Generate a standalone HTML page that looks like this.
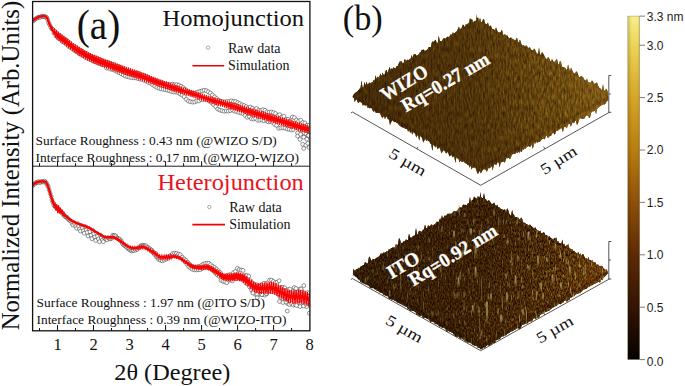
<!DOCTYPE html><html><head><meta charset="utf-8"><style>html,body{margin:0;padding:0;background:#fff;overflow:hidden}body{width:685px;height:386px;position:relative;font-family:"Liberation Sans",sans-serif}</style></head><body><svg width="685" height="386" viewBox="0 0 685 386" style="position:absolute;left:0;top:0">
<defs><clipPath id="ct"><rect x="32.5" y="1.5" width="277.3" height="164.5"/></clipPath><clipPath id="cb"><rect x="32.5" y="166" width="277.3" height="164.8"/></clipPath></defs>
<rect width="685" height="386" fill="#fff"/>
<g clip-path="url(#ct)">
<g fill="#fff" stroke="#3c3c3c" stroke-width="0.55"><circle cx="33.0" cy="20.9" r="1.95"/><circle cx="34.0" cy="20.2" r="1.95"/><circle cx="35.1" cy="19.3" r="1.95"/><circle cx="36.1" cy="18.5" r="1.95"/><circle cx="37.2" cy="18.0" r="1.95"/><circle cx="38.2" cy="17.3" r="1.95"/><circle cx="39.3" cy="17.1" r="1.95"/><circle cx="40.3" cy="17.2" r="1.95"/><circle cx="41.4" cy="16.5" r="1.95"/><circle cx="42.4" cy="16.3" r="1.95"/><circle cx="43.5" cy="16.5" r="1.95"/><circle cx="44.5" cy="16.6" r="1.95"/><circle cx="45.6" cy="16.9" r="1.95"/><circle cx="46.6" cy="17.4" r="1.95"/><circle cx="47.7" cy="19.6" r="1.95"/><circle cx="48.7" cy="22.8" r="1.95"/><circle cx="49.8" cy="24.8" r="1.95"/><circle cx="50.8" cy="27.2" r="1.95"/><circle cx="51.9" cy="28.9" r="1.95"/><circle cx="52.9" cy="29.7" r="1.95"/><circle cx="54.0" cy="33.0" r="1.95"/><circle cx="55.0" cy="31.4" r="1.95"/><circle cx="56.1" cy="36.0" r="1.95"/><circle cx="57.1" cy="33.6" r="1.95"/><circle cx="58.2" cy="38.2" r="1.95"/><circle cx="59.2" cy="35.2" r="1.95"/><circle cx="60.3" cy="39.3" r="1.95"/><circle cx="61.3" cy="36.8" r="1.95"/><circle cx="62.4" cy="41.5" r="1.95"/><circle cx="63.4" cy="38.5" r="1.95"/><circle cx="64.5" cy="42.6" r="1.95"/><circle cx="65.5" cy="39.8" r="1.95"/><circle cx="66.6" cy="44.3" r="1.95"/><circle cx="67.6" cy="41.3" r="1.95"/><circle cx="68.7" cy="46.4" r="1.95"/><circle cx="69.7" cy="43.0" r="1.95"/><circle cx="70.8" cy="47.8" r="1.95"/><circle cx="71.8" cy="45.0" r="1.95"/><circle cx="72.9" cy="49.2" r="1.95"/><circle cx="73.9" cy="46.3" r="1.95"/><circle cx="75.0" cy="50.8" r="1.95"/><circle cx="76.0" cy="47.7" r="1.95"/><circle cx="77.1" cy="51.9" r="1.95"/><circle cx="78.1" cy="49.1" r="1.95"/><circle cx="79.2" cy="53.8" r="1.95"/><circle cx="80.2" cy="50.0" r="1.95"/><circle cx="81.3" cy="55.0" r="1.95"/><circle cx="82.3" cy="51.6" r="1.95"/><circle cx="83.4" cy="55.9" r="1.95"/><circle cx="84.4" cy="53.3" r="1.95"/><circle cx="85.5" cy="57.4" r="1.95"/><circle cx="86.5" cy="53.7" r="1.95"/><circle cx="87.6" cy="58.3" r="1.95"/><circle cx="88.6" cy="55.2" r="1.95"/><circle cx="89.7" cy="59.3" r="1.95"/><circle cx="90.7" cy="56.2" r="1.95"/><circle cx="91.8" cy="60.3" r="1.95"/><circle cx="92.8" cy="57.2" r="1.95"/><circle cx="93.9" cy="61.6" r="1.95"/><circle cx="94.9" cy="57.7" r="1.95"/><circle cx="96.0" cy="62.2" r="1.95"/><circle cx="97.0" cy="58.7" r="1.95"/><circle cx="98.1" cy="63.1" r="1.95"/><circle cx="99.1" cy="59.4" r="1.95"/><circle cx="100.2" cy="63.7" r="1.95"/><circle cx="101.2" cy="60.5" r="1.95"/><circle cx="102.3" cy="64.9" r="1.95"/><circle cx="103.3" cy="61.6" r="1.95"/><circle cx="104.4" cy="65.2" r="1.95"/><circle cx="105.4" cy="62.1" r="1.95"/><circle cx="106.5" cy="68.0" r="1.95"/><circle cx="107.5" cy="62.2" r="1.95"/><circle cx="108.6" cy="68.2" r="1.95"/><circle cx="109.6" cy="63.2" r="1.95"/><circle cx="110.7" cy="69.2" r="1.95"/><circle cx="111.7" cy="64.0" r="1.95"/><circle cx="112.8" cy="69.5" r="1.95"/><circle cx="113.8" cy="64.5" r="1.95"/><circle cx="114.9" cy="70.4" r="1.95"/><circle cx="115.9" cy="66.0" r="1.95"/><circle cx="117.0" cy="71.4" r="1.95"/><circle cx="118.0" cy="66.6" r="1.95"/><circle cx="119.1" cy="72.7" r="1.95"/><circle cx="120.1" cy="67.8" r="1.95"/><circle cx="121.2" cy="73.7" r="1.95"/><circle cx="122.2" cy="68.7" r="1.95"/><circle cx="123.3" cy="74.9" r="1.95"/><circle cx="124.3" cy="70.0" r="1.95"/><circle cx="125.4" cy="76.1" r="1.95"/><circle cx="126.4" cy="71.2" r="1.95"/><circle cx="127.5" cy="76.6" r="1.95"/><circle cx="128.5" cy="72.0" r="1.95"/><circle cx="129.6" cy="77.2" r="1.95"/><circle cx="130.6" cy="72.7" r="1.95"/><circle cx="131.7" cy="77.7" r="1.95"/><circle cx="132.7" cy="73.0" r="1.95"/><circle cx="133.8" cy="77.8" r="1.95"/><circle cx="134.8" cy="73.3" r="1.95"/><circle cx="135.9" cy="77.9" r="1.95"/><circle cx="136.9" cy="73.0" r="1.95"/><circle cx="138.0" cy="78.6" r="1.95"/><circle cx="139.0" cy="73.7" r="1.95"/><circle cx="140.1" cy="79.1" r="1.95"/><circle cx="141.1" cy="75.0" r="1.95"/><circle cx="142.2" cy="79.4" r="1.95"/><circle cx="143.2" cy="75.0" r="1.95"/><circle cx="144.3" cy="80.4" r="1.95"/><circle cx="145.3" cy="76.1" r="1.95"/><circle cx="146.4" cy="81.2" r="1.95"/><circle cx="147.4" cy="77.0" r="1.95"/><circle cx="148.5" cy="82.5" r="1.95"/><circle cx="149.5" cy="78.3" r="1.95"/><circle cx="150.6" cy="83.2" r="1.95"/><circle cx="151.6" cy="79.3" r="1.95"/><circle cx="152.7" cy="84.8" r="1.95"/><circle cx="153.7" cy="80.1" r="1.95"/><circle cx="154.8" cy="86.1" r="1.95"/><circle cx="155.8" cy="81.1" r="1.95"/><circle cx="156.9" cy="87.4" r="1.95"/><circle cx="157.9" cy="82.2" r="1.95"/><circle cx="159.0" cy="88.2" r="1.95"/><circle cx="160.0" cy="82.7" r="1.95"/><circle cx="161.1" cy="88.9" r="1.95"/><circle cx="162.1" cy="82.9" r="1.95"/><circle cx="163.2" cy="89.3" r="1.95"/><circle cx="164.2" cy="83.8" r="1.95"/><circle cx="165.3" cy="89.6" r="1.95"/><circle cx="166.3" cy="84.2" r="1.95"/><circle cx="167.4" cy="90.1" r="1.95"/><circle cx="168.4" cy="84.4" r="1.95"/><circle cx="169.5" cy="90.8" r="1.95"/><circle cx="170.5" cy="84.6" r="1.95"/><circle cx="171.6" cy="91.5" r="1.95"/><circle cx="172.6" cy="84.2" r="1.95"/><circle cx="173.7" cy="92.0" r="1.95"/><circle cx="174.7" cy="84.9" r="1.95"/><circle cx="175.8" cy="92.0" r="1.95"/><circle cx="176.8" cy="84.7" r="1.95"/><circle cx="177.9" cy="92.5" r="1.95"/><circle cx="178.9" cy="85.1" r="1.95"/><circle cx="180.0" cy="93.9" r="1.95"/><circle cx="181.0" cy="86.2" r="1.95"/><circle cx="182.1" cy="95.1" r="1.95"/><circle cx="183.1" cy="87.6" r="1.95"/><circle cx="184.2" cy="96.8" r="1.95"/><circle cx="185.2" cy="89.3" r="1.95"/><circle cx="186.3" cy="99.3" r="1.95"/><circle cx="187.3" cy="91.4" r="1.95"/><circle cx="188.4" cy="101.0" r="1.95"/><circle cx="189.4" cy="92.6" r="1.95"/><circle cx="190.5" cy="101.7" r="1.95"/><circle cx="191.5" cy="93.2" r="1.95"/><circle cx="192.6" cy="102.1" r="1.95"/><circle cx="193.6" cy="93.4" r="1.95"/><circle cx="194.7" cy="101.9" r="1.95"/><circle cx="195.7" cy="92.9" r="1.95"/><circle cx="196.8" cy="101.0" r="1.95"/><circle cx="197.8" cy="92.1" r="1.95"/><circle cx="198.9" cy="100.9" r="1.95"/><circle cx="199.9" cy="91.3" r="1.95"/><circle cx="201.0" cy="99.5" r="1.95"/><circle cx="202.0" cy="90.9" r="1.95"/><circle cx="203.1" cy="99.6" r="1.95"/><circle cx="204.1" cy="90.2" r="1.95"/><circle cx="205.2" cy="99.2" r="1.95"/><circle cx="206.2" cy="90.6" r="1.95"/><circle cx="207.3" cy="99.4" r="1.95"/><circle cx="208.3" cy="91.8" r="1.95"/><circle cx="209.4" cy="101.1" r="1.95"/><circle cx="210.4" cy="93.0" r="1.95"/><circle cx="211.5" cy="102.6" r="1.95"/><circle cx="212.5" cy="95.0" r="1.95"/><circle cx="213.6" cy="104.7" r="1.95"/><circle cx="214.6" cy="96.9" r="1.95"/><circle cx="215.7" cy="106.6" r="1.95"/><circle cx="216.7" cy="98.6" r="1.95"/><circle cx="217.8" cy="109.1" r="1.95"/><circle cx="218.8" cy="100.3" r="1.95"/><circle cx="219.9" cy="110.1" r="1.95"/><circle cx="220.9" cy="101.4" r="1.95"/><circle cx="222.0" cy="110.7" r="1.95"/><circle cx="223.0" cy="101.7" r="1.95"/><circle cx="224.1" cy="111.3" r="1.95"/><circle cx="225.1" cy="101.8" r="1.95"/><circle cx="226.2" cy="110.9" r="1.95"/><circle cx="227.2" cy="101.6" r="1.95"/><circle cx="228.3" cy="111.1" r="1.95"/><circle cx="229.3" cy="101.5" r="1.95"/><circle cx="230.4" cy="110.6" r="1.95"/><circle cx="231.4" cy="100.9" r="1.95"/><circle cx="232.5" cy="109.9" r="1.95"/><circle cx="233.5" cy="101.5" r="1.95"/><circle cx="234.6" cy="111.1" r="1.95"/><circle cx="235.6" cy="101.5" r="1.95"/><circle cx="236.7" cy="111.5" r="1.95"/><circle cx="237.7" cy="102.6" r="1.95"/><circle cx="238.8" cy="112.5" r="1.95"/><circle cx="239.8" cy="103.6" r="1.95"/><circle cx="240.9" cy="112.9" r="1.95"/><circle cx="241.9" cy="104.8" r="1.95"/><circle cx="243.0" cy="113.5" r="1.95"/><circle cx="244.0" cy="105.5" r="1.95"/><circle cx="245.1" cy="115.5" r="1.95"/><circle cx="246.1" cy="106.6" r="1.95"/><circle cx="247.2" cy="117.3" r="1.95"/><circle cx="248.2" cy="107.9" r="1.95"/><circle cx="249.3" cy="116.6" r="1.95"/><circle cx="250.3" cy="107.0" r="1.95"/><circle cx="251.4" cy="118.7" r="1.95"/><circle cx="252.4" cy="108.2" r="1.95"/><circle cx="253.5" cy="119.0" r="1.95"/><circle cx="254.5" cy="110.0" r="1.95"/><circle cx="255.6" cy="118.5" r="1.95"/><circle cx="256.6" cy="108.4" r="1.95"/><circle cx="257.7" cy="120.2" r="1.95"/><circle cx="258.7" cy="110.3" r="1.95"/><circle cx="259.8" cy="120.2" r="1.95"/><circle cx="260.8" cy="110.6" r="1.95"/><circle cx="261.9" cy="120.0" r="1.95"/><circle cx="262.9" cy="109.6" r="1.95"/><circle cx="264.0" cy="120.9" r="1.95"/><circle cx="265.0" cy="110.3" r="1.95"/><circle cx="266.1" cy="120.0" r="1.95"/><circle cx="267.1" cy="111.9" r="1.95"/><circle cx="268.2" cy="121.8" r="1.95"/><circle cx="269.2" cy="112.3" r="1.95"/><circle cx="270.3" cy="121.6" r="1.95"/><circle cx="271.3" cy="112.0" r="1.95"/><circle cx="272.4" cy="122.3" r="1.95"/><circle cx="273.4" cy="112.6" r="1.95"/><circle cx="274.5" cy="124.3" r="1.95"/><circle cx="275.5" cy="113.5" r="1.95"/><circle cx="276.6" cy="125.4" r="1.95"/><circle cx="277.6" cy="115.7" r="1.95"/><circle cx="278.7" cy="128.2" r="1.95"/><circle cx="279.7" cy="114.7" r="1.95"/><circle cx="280.8" cy="127.9" r="1.95"/><circle cx="281.8" cy="117.1" r="1.95"/><circle cx="282.9" cy="127.8" r="1.95"/><circle cx="283.9" cy="116.3" r="1.95"/><circle cx="285.0" cy="128.0" r="1.95"/><circle cx="286.0" cy="119.6" r="1.95"/><circle cx="287.1" cy="129.1" r="1.95"/><circle cx="288.1" cy="119.3" r="1.95"/><circle cx="289.2" cy="129.3" r="1.95"/><circle cx="290.2" cy="121.2" r="1.95"/><circle cx="291.3" cy="130.0" r="1.95"/><circle cx="292.3" cy="117.0" r="1.95"/><circle cx="293.4" cy="129.4" r="1.95"/><circle cx="294.4" cy="117.6" r="1.95"/><circle cx="295.5" cy="126.0" r="1.95"/><circle cx="296.5" cy="119.9" r="1.95"/><circle cx="297.6" cy="133.0" r="1.95"/><circle cx="298.6" cy="121.2" r="1.95"/><circle cx="299.7" cy="129.8" r="1.95"/><circle cx="300.7" cy="120.2" r="1.95"/><circle cx="301.8" cy="133.9" r="1.95"/><circle cx="302.8" cy="122.5" r="1.95"/><circle cx="303.9" cy="133.0" r="1.95"/><circle cx="304.9" cy="123.0" r="1.95"/><circle cx="306.0" cy="133.8" r="1.95"/><circle cx="307.0" cy="125.3" r="1.95"/><circle cx="308.1" cy="135.6" r="1.95"/><circle cx="309.1" cy="125.3" r="1.95"/><circle cx="310.2" cy="133.7" r="1.95"/><circle cx="297.6" cy="136.1" r="1.95"/><circle cx="300.6" cy="134.3" r="1.95"/><circle cx="303.7" cy="137.2" r="1.95"/><circle cx="306.8" cy="139.2" r="1.95"/><circle cx="302.7" cy="144.3" r="1.95"/><circle cx="305.8" cy="145.3" r="1.95"/><circle cx="303.7" cy="148.4" r="1.95"/><circle cx="307.8" cy="143.3" r="1.95"/><circle cx="308.6" cy="135.5" r="1.95"/><circle cx="309.3" cy="147.5" r="1.95"/><circle cx="300.0" cy="139.5" r="1.95"/></g>
<path d="M32.5,21.1 L33.5,20.2 L34.5,19.5 L35.5,18.8 L36.5,18.2 L37.5,17.6 L38.5,17.1 L39.5,16.7 L40.5,16.5 L41.5,16.3 L42.5,16.1 L43.5,16.1 L44.5,16.2 L45.5,16.5 L46.5,17.1 L47.5,18.8 L48.5,21.7 L49.5,24.2 L50.5,26.3 L51.5,28.3 L52.5,29.8 L53.5,31.2 L54.5,32.4 L55.5,33.5 L56.5,34.5 L57.5,35.4 L58.5,36.2 L59.5,37.0" fill="none" stroke="#fb0000" stroke-width="2.3" stroke-linejoin="round"/>
<polygon points="55.0,30.7 56.0,31.7 57.0,32.7 58.0,33.5 59.0,34.3 60.0,35.1 61.0,35.9 62.0,36.6 63.0,37.3 64.0,38.0 65.0,38.8 66.0,39.5 67.0,40.3 68.0,41.0 69.0,41.8 70.0,42.6 71.0,43.3 72.0,44.1 73.0,44.8 74.0,45.5 75.0,46.2 76.0,46.9 77.0,47.5 78.0,48.1 79.0,48.8 80.0,49.4 81.0,50.0 82.0,50.6 83.0,51.2 84.0,51.8 85.0,52.3 86.0,52.9 87.0,53.4 88.0,53.9 89.0,54.4 90.0,54.9 91.0,55.4 92.0,55.8 93.0,56.3 94.0,56.7 95.0,57.1 96.0,57.6 97.0,58.0 98.0,58.4 99.0,58.8 100.0,59.2 101.0,59.6 102.0,60.0 103.0,60.4 104.0,60.8 105.0,61.1 106.0,61.5 107.0,61.9 108.0,62.2 109.0,62.6 110.0,63.0 111.0,63.3 112.0,63.7 113.0,64.1 114.0,64.4 115.0,64.8 116.0,65.1 117.0,65.5 118.0,65.9 119.0,66.2 120.0,66.6 121.0,66.9 122.0,67.3 123.0,67.6 124.0,68.0 125.0,68.4 126.0,68.7 127.0,69.1 128.0,69.4 129.0,69.8 130.0,70.1 131.0,70.5 132.0,70.8 133.0,71.1 134.0,71.5 135.0,71.8 136.0,72.2 137.0,72.6 138.0,72.9 139.0,73.3 140.0,73.7 141.0,74.1 142.0,74.4 143.0,74.8 144.0,75.2 145.0,75.6 146.0,76.0 147.0,76.4 148.0,76.8 149.0,77.2 150.0,77.6 151.0,78.0 152.0,78.3 153.0,78.7 154.0,79.1 155.0,79.5 156.0,79.8 157.0,80.2 158.0,80.6 159.0,80.9 160.0,81.3 161.0,81.7 162.0,82.0 163.0,82.4 164.0,82.8 165.0,83.1 166.0,83.5 167.0,83.8 168.0,84.2 169.0,84.6 170.0,84.9 171.0,85.3 172.0,85.6 173.0,86.0 174.0,86.3 175.0,86.7 176.0,87.0 177.0,87.4 178.0,87.7 179.0,88.0 180.0,88.3 181.0,88.7 182.0,89.0 183.0,89.3 184.0,89.6 185.0,90.0 186.0,90.3 187.0,90.6 188.0,91.0 189.0,91.3 190.0,91.6 191.0,92.0 192.0,92.3 193.0,92.6 194.0,93.0 195.0,93.3 196.0,93.6 197.0,94.0 198.0,94.3 199.0,94.7 200.0,95.0 201.0,95.3 202.0,95.6 203.0,96.0 204.0,96.3 205.0,96.6 206.0,97.0 207.0,97.3 208.0,97.6 209.0,97.9 210.0,98.3 211.0,98.6 212.0,98.9 213.0,99.2 214.0,99.4 215.0,99.7 216.0,100.0 217.0,100.3 218.0,100.5 219.0,100.8 220.0,101.1 221.0,101.3 222.0,101.6 223.0,101.9 224.0,102.1 225.0,102.4 226.0,102.7 227.0,103.0 228.0,103.2 229.0,103.5 230.0,103.8 231.0,104.1 232.0,104.3 233.0,104.6 234.0,104.9 235.0,105.2 236.0,105.5 237.0,105.8 238.0,106.1 239.0,106.4 240.0,106.7 241.0,107.0 242.0,107.4 243.0,107.7 244.0,108.0 245.0,108.4 246.0,108.7 247.0,109.1 248.0,109.4 249.0,109.7 250.0,110.0 251.0,110.3 252.0,110.6 253.0,110.9 254.0,111.2 255.0,111.5 256.0,111.7 257.0,112.0 258.0,112.3 259.0,112.6 260.0,112.8 261.0,113.1 262.0,113.4 263.0,113.7 264.0,114.0 265.0,114.2 266.0,114.5 267.0,114.8 268.0,115.1 269.0,115.4 270.0,115.7 271.0,116.0 272.0,116.3 273.0,116.6 274.0,116.9 275.0,117.2 276.0,117.5 277.0,117.8 278.0,118.1 279.0,118.4 280.0,118.7 281.0,119.0 282.0,119.3 283.0,119.7 284.0,120.0 285.0,120.3 286.0,120.6 287.0,120.9 288.0,121.2 289.0,121.5 290.0,121.8 291.0,122.1 292.0,122.4 293.0,122.7 294.0,123.1 295.0,123.4 296.0,123.7 297.0,124.0 298.0,124.3 299.0,124.6 300.0,124.9 301.0,125.2 302.0,125.5 303.0,125.8 304.0,126.1 305.0,126.4 306.0,126.7 307.0,127.0 308.0,127.3 309.0,127.6 309.0,131.8 308.0,131.5 307.0,131.2 306.0,130.9 305.0,130.6 304.0,130.3 303.0,130.0 302.0,129.7 301.0,129.4 300.0,129.1 299.0,128.8 298.0,128.5 297.0,128.2 296.0,127.9 295.0,127.6 294.0,127.3 293.0,126.9 292.0,126.6 291.0,126.3 290.0,126.0 289.0,125.7 288.0,125.4 287.0,125.1 286.0,124.8 285.0,124.5 284.0,124.2 283.0,123.9 282.0,123.5 281.0,123.2 280.0,122.9 279.0,122.6 278.0,122.3 277.0,122.0 276.0,121.7 275.0,121.4 274.0,121.1 273.0,120.8 272.0,120.5 271.0,120.2 270.0,119.9 269.0,119.6 268.0,119.3 267.0,119.0 266.0,118.6 265.0,118.3 264.0,118.0 263.0,117.7 262.0,117.4 261.0,117.1 260.0,116.8 259.0,116.5 258.0,116.2 257.0,115.9 256.0,115.6 255.0,115.3 254.0,115.0 253.0,114.7 252.0,114.4 251.0,114.1 250.0,113.8 249.0,113.4 248.0,113.1 247.0,112.7 246.0,112.4 245.0,112.0 244.0,111.7 243.0,111.3 242.0,110.9 241.0,110.6 240.0,110.2 239.0,109.9 238.0,109.5 237.0,109.2 236.0,108.9 235.0,108.6 234.0,108.3 233.0,108.0 232.0,107.7 231.0,107.4 230.0,107.1 229.0,106.8 228.0,106.5 227.0,106.2 226.0,105.9 225.0,105.6 224.0,105.3 223.0,105.0 222.0,104.7 221.0,104.4 220.0,104.1 219.0,103.8 218.0,103.5 217.0,103.3 216.0,103.0 215.0,102.7 214.0,102.4 213.0,102.1 212.0,101.7 211.0,101.4 210.0,101.1 209.0,100.7 208.0,100.4 207.0,100.1 206.0,99.7 205.0,99.3 204.0,99.0 203.0,98.6 202.0,98.3 201.0,97.9 200.0,97.6 199.0,97.3 198.0,97.0 197.0,96.7 196.0,96.3 195.0,96.0 194.0,95.7 193.0,95.4 192.0,95.1 191.0,94.8 190.0,94.5 189.0,94.2 188.0,93.9 187.0,93.5 186.0,93.2 185.0,92.9 184.0,92.6 183.0,92.3 182.0,92.0 181.0,91.7 180.0,91.4 179.0,91.1 178.0,90.8 177.0,90.5 176.0,90.2 175.0,89.9 174.0,89.6 173.0,89.3 172.0,88.9 171.0,88.6 170.0,88.3 169.0,87.9 168.0,87.6 167.0,87.3 166.0,86.9 165.0,86.6 164.0,86.3 163.0,85.9 162.0,85.6 161.0,85.2 160.0,84.9 159.0,84.6 158.0,84.2 157.0,83.9 156.0,83.5 155.0,83.2 154.0,82.8 153.0,82.5 152.0,82.1 151.0,81.8 150.0,81.4 149.0,81.1 148.0,80.7 147.0,80.3 146.0,80.0 145.0,79.6 144.0,79.2 143.0,78.9 142.0,78.5 141.0,78.1 140.0,77.8 139.0,77.4 138.0,77.1 137.0,76.7 136.0,76.4 135.0,76.1 134.0,75.7 133.0,75.4 132.0,75.1 131.0,74.8 130.0,74.5 129.0,74.1 128.0,73.8 127.0,73.5 126.0,73.2 125.0,72.8 124.0,72.5 123.0,72.2 122.0,71.8 121.0,71.5 120.0,71.2 119.0,70.8 118.0,70.5 117.0,70.1 116.0,69.7 115.0,69.4 114.0,69.0 113.0,68.7 112.0,68.3 111.0,67.9 110.0,67.6 109.0,67.2 108.0,66.8 107.0,66.5 106.0,66.1 105.0,65.7 104.0,65.4 103.0,65.0 102.0,64.6 101.0,64.2 100.0,63.8 99.0,63.4 98.0,63.0 97.0,62.6 96.0,62.2 95.0,61.7 94.0,61.3 93.0,60.9 92.0,60.4 91.0,60.0 90.0,59.5 89.0,59.0 88.0,58.5 87.0,58.0 86.0,57.5 85.0,56.9 84.0,56.4 83.0,55.8 82.0,55.2 81.0,54.6 80.0,54.0 79.0,53.4 78.0,52.7 77.0,52.1 76.0,51.5 75.0,50.8 74.0,50.1 73.0,49.4 72.0,48.7 71.0,47.9 70.0,47.2 69.0,46.4 68.0,45.6 67.0,44.9 66.0,44.1 65.0,43.4 64.0,42.6 63.0,41.9 62.0,41.2 61.0,40.5 60.0,39.7 59.0,38.9 58.0,38.1 57.0,37.3 56.0,36.3 55.0,35.3" fill="#fb0000"/>
<path d="M32.5,21.4 L33.5,19.9 L34.4,19.9 L35.4,18.5 L36.3,18.7 L37.3,17.4 L38.2,17.6 L39.2,16.5 L40.1,16.9 L41.1,16.0 L42.0,16.5 L43.0,15.8 L43.9,16.5 L44.9,16.0 L45.8,17.0 L46.8,17.1 L47.7,19.7 L48.7,21.4 L49.6,25.6 L50.6,24.7 L51.5,30.6 L52.5,26.9 L53.4,34.4 L54.4,28.3 L55.3,37.6 L56.3,30.0 L57.2,39.4 L58.2,31.7 L59.1,41.0 L60.1,33.1 L61.0,42.5 L62.0,34.6 L62.9,43.8 L63.9,35.9 L64.8,45.2 L65.8,37.3 L66.7,46.6 L67.7,38.7 L68.6,48.1 L69.6,40.2 L70.5,49.5 L71.5,41.7 L72.4,51.0 L73.4,43.1 L74.3,52.3 L75.3,44.4 L76.2,53.6 L77.2,45.6 L78.1,54.8 L79.1,46.8 L80.0,56.0 L81.0,48.0 L81.9,57.1 L82.9,49.1 L83.8,58.2 L84.8,50.2 L85.7,59.3 L86.7,51.2 L87.6,60.3 L88.6,52.2 L89.5,61.2 L90.5,53.1 L91.4,62.1 L92.4,54.0 L93.3,63.0 L94.3,54.8 L95.2,63.8 L96.2,55.6 L97.1,64.6 L98.1,56.4 L99.0,65.4 L100.0,57.2 L100.9,66.2 L101.9,57.9 L102.8,66.9 L103.8,58.7 L104.7,67.6 L105.7,59.4 L106.6,68.3 L107.6,60.1 L108.5,69.0 L109.5,60.8 L110.4,69.7 L111.4,61.5 L112.3,70.4 L113.3,62.2 L114.2,71.1 L115.2,62.8 L116.1,71.8 L117.1,63.5 L118.0,72.5 L119.0,64.2 L119.9,73.1 L120.9,64.9 L121.8,73.8 L122.8,65.6 L123.7,74.4 L124.7,66.2 L125.6,75.0 L126.6,66.9 L127.5,75.7 L128.5,67.6 L129.4,76.3 L130.4,68.2 L131.3,76.9 L132.3,68.9 L133.2,77.5 L134.2,69.5 L135.1,78.1 L136.1,70.2 L137.0,78.7 L138.0,70.9 L138.9,79.4 L139.9,71.6 L140.8,80.1 L141.8,72.4 L142.7,80.8 L143.7,73.1 L144.6,81.5 L145.6,73.8 L146.5,82.2 L147.5,74.6 L148.4,82.9 L149.4,75.3 L150.3,83.5 L151.3,76.0 L152.2,84.2 L153.2,76.8 L154.1,84.9 L155.1,77.5 L156.0,85.5 L157.0,78.2 L157.9,86.2 L158.9,78.9 L159.8,86.8 L160.8,79.6 L161.7,87.5 L162.7,80.3 L163.6,88.1 L164.6,81.0 L165.5,88.8 L166.5,81.6 L167.4,89.4 L168.4,82.3 L169.3,90.0 L170.3,83.0 L171.2,90.7 L172.2,83.7 L173.1,91.3 L174.1,84.4 L175.0,91.9 L176.0,85.0 L176.9,92.5 L177.9,85.6 L178.8,93.1 L179.8,86.3 L180.7,93.7 L181.7,86.9 L182.6,94.2 L183.6,87.5 L184.5,94.8 L185.5,88.1 L186.4,95.4 L187.4,88.7 L188.3,95.9 L189.3,89.4 L190.2,96.5 L191.2,90.0 L192.1,97.1 L193.1,90.6 L194.0,97.7 L195.0,91.3 L195.9,98.3 L196.9,91.9 L197.8,98.9 L198.8,92.6 L199.7,99.5 L200.7,93.2 L201.6,100.2 L202.6,93.8 L203.5,100.8 L204.5,94.5 L205.4,101.5 L206.4,95.1 L207.3,102.2 L208.3,95.7 L209.2,102.8 L210.2,96.3 L211.1,103.4 L212.1,96.9 L213.0,104.1 L214.0,97.4 L214.9,104.6 L215.9,98.0 L216.8,105.2 L217.8,98.5 L218.7,105.8 L219.7,99.0 L220.6,106.3 L221.6,99.5 L222.5,106.8 L223.5,100.0 L224.4,107.4 L225.4,100.5 L226.3,108.0 L227.3,101.0 L228.2,108.5 L229.2,101.6 L230.1,109.1 L231.1,102.1 L232.0,109.7 L233.0,102.6 L233.9,110.2 L234.9,103.1 L235.8,110.8 L236.8,103.7 L237.7,111.4 L238.7,104.3 L239.6,112.1 L240.6,104.9 L241.5,112.7 L242.5,105.5 L243.4,113.4 L244.4,106.2 L245.3,114.1 L246.3,106.8 L247.2,114.8 L248.2,107.4 L249.1,115.5 L250.1,108.0 L251.0,116.1 L252.0,108.6 L252.9,116.7 L253.9,109.1 L254.8,117.3 L255.8,109.7 L256.7,117.8 L257.7,110.2 L258.6,118.4 L259.6,110.7 L260.5,119.0 L261.5,111.2 L262.4,119.5 L263.4,111.8 L264.3,120.1 L265.3,112.3 L266.2,120.7 L267.2,112.9 L268.1,121.3 L269.1,113.4 L270.0,121.9 L271.0,114.0 L271.9,122.5 L272.9,114.5 L273.8,123.0 L274.8,115.1 L275.7,123.6 L276.7,115.7 L277.6,124.2 L278.6,116.3 L279.5,124.8 L280.5,116.9 L281.4,125.4 L282.4,117.5 L283.3,125.9 L284.3,118.0 L285.2,126.5 L286.2,118.6 L287.1,127.1 L288.1,119.2 L289.0,127.7 L290.0,119.8 L290.9,128.3 L291.9,120.4 L292.8,128.9 L293.8,121.0 L294.7,129.5 L295.7,121.6 L296.6,130.1 L297.6,122.2 L298.5,130.6 L299.5,122.7 L300.4,131.2 L301.4,123.3 L302.3,131.8 L303.3,123.9 L304.2,132.4 L305.2,124.4 L306.1,132.9 L307.1,125.0 L308.0,133.5 L309.0,125.5" fill="none" stroke="#fb0000" stroke-width="0.9" stroke-linejoin="miter"/>
</g>
<g clip-path="url(#cb)">
<g fill="#fff" stroke="#3c3c3c" stroke-width="0.55"><circle cx="33.0" cy="185.3" r="1.95"/><circle cx="34.0" cy="184.1" r="1.95"/><circle cx="34.9" cy="184.0" r="1.95"/><circle cx="35.9" cy="182.7" r="1.95"/><circle cx="36.8" cy="182.6" r="1.95"/><circle cx="37.8" cy="182.2" r="1.95"/><circle cx="38.7" cy="181.6" r="1.95"/><circle cx="39.7" cy="182.4" r="1.95"/><circle cx="40.6" cy="182.2" r="1.95"/><circle cx="41.6" cy="181.6" r="1.95"/><circle cx="42.5" cy="181.9" r="1.95"/><circle cx="43.5" cy="181.9" r="1.95"/><circle cx="44.4" cy="181.1" r="1.95"/><circle cx="45.4" cy="182.1" r="1.95"/><circle cx="46.3" cy="182.9" r="1.95"/><circle cx="47.3" cy="184.8" r="1.95"/><circle cx="48.2" cy="186.7" r="1.95"/><circle cx="49.2" cy="189.9" r="1.95"/><circle cx="50.1" cy="193.2" r="1.95"/><circle cx="51.1" cy="196.4" r="1.95"/><circle cx="52.0" cy="200.0" r="1.95"/><circle cx="53.0" cy="202.5" r="1.95"/><circle cx="53.9" cy="205.1" r="1.95"/><circle cx="54.9" cy="206.3" r="1.95"/><circle cx="55.8" cy="207.1" r="1.95"/><circle cx="56.8" cy="207.8" r="1.95"/><circle cx="57.7" cy="208.7" r="1.95"/><circle cx="58.7" cy="209.7" r="1.95"/><circle cx="59.6" cy="210.3" r="1.95"/><circle cx="60.6" cy="211.9" r="1.95"/><circle cx="61.5" cy="212.4" r="1.95"/><circle cx="62.5" cy="213.0" r="1.95"/><circle cx="63.4" cy="214.5" r="1.95"/><circle cx="64.4" cy="215.7" r="1.95"/><circle cx="65.3" cy="216.7" r="1.95"/><circle cx="66.3" cy="217.1" r="1.95"/><circle cx="67.2" cy="217.7" r="1.95"/><circle cx="68.2" cy="219.0" r="1.95"/><circle cx="69.1" cy="220.0" r="1.95"/><circle cx="70.1" cy="220.5" r="1.95"/><circle cx="71.0" cy="221.2" r="1.95"/><circle cx="72.0" cy="223.0" r="1.95"/><circle cx="72.9" cy="225.0" r="1.95"/><circle cx="73.9" cy="222.4" r="1.95"/><circle cx="74.8" cy="224.0" r="1.95"/><circle cx="75.8" cy="226.2" r="1.95"/><circle cx="76.7" cy="228.3" r="1.95"/><circle cx="77.7" cy="223.8" r="1.95"/><circle cx="78.6" cy="226.4" r="1.95"/><circle cx="79.6" cy="229.1" r="1.95"/><circle cx="80.5" cy="231.1" r="1.95"/><circle cx="81.5" cy="225.5" r="1.95"/><circle cx="82.4" cy="227.8" r="1.95"/><circle cx="83.4" cy="230.8" r="1.95"/><circle cx="84.3" cy="233.2" r="1.95"/><circle cx="85.3" cy="226.5" r="1.95"/><circle cx="86.2" cy="230.0" r="1.95"/><circle cx="87.2" cy="232.4" r="1.95"/><circle cx="88.1" cy="236.0" r="1.95"/><circle cx="89.1" cy="228.8" r="1.95"/><circle cx="90.0" cy="231.7" r="1.95"/><circle cx="91.0" cy="235.1" r="1.95"/><circle cx="91.9" cy="238.7" r="1.95"/><circle cx="92.9" cy="230.6" r="1.95"/><circle cx="93.8" cy="233.9" r="1.95"/><circle cx="94.8" cy="236.9" r="1.95"/><circle cx="95.7" cy="240.4" r="1.95"/><circle cx="96.7" cy="233.4" r="1.95"/><circle cx="97.6" cy="236.4" r="1.95"/><circle cx="98.6" cy="238.9" r="1.95"/><circle cx="99.5" cy="241.6" r="1.95"/><circle cx="100.5" cy="235.2" r="1.95"/><circle cx="101.4" cy="237.9" r="1.95"/><circle cx="102.4" cy="239.9" r="1.95"/><circle cx="103.3" cy="241.7" r="1.95"/><circle cx="104.3" cy="237.5" r="1.95"/><circle cx="105.2" cy="238.6" r="1.95"/><circle cx="106.2" cy="239.3" r="1.95"/><circle cx="107.1" cy="239.7" r="1.95"/><circle cx="108.1" cy="237.8" r="1.95"/><circle cx="109.0" cy="238.3" r="1.95"/><circle cx="110.0" cy="238.9" r="1.95"/><circle cx="110.9" cy="238.7" r="1.95"/><circle cx="111.9" cy="237.9" r="1.95"/><circle cx="112.8" cy="235.2" r="1.95"/><circle cx="113.8" cy="235.7" r="1.95"/><circle cx="114.7" cy="235.4" r="1.95"/><circle cx="115.7" cy="236.0" r="1.95"/><circle cx="116.6" cy="237.6" r="1.95"/><circle cx="117.6" cy="238.2" r="1.95"/><circle cx="118.5" cy="238.9" r="1.95"/><circle cx="119.5" cy="239.1" r="1.95"/><circle cx="120.4" cy="240.6" r="1.95"/><circle cx="121.4" cy="241.3" r="1.95"/><circle cx="122.3" cy="243.1" r="1.95"/><circle cx="123.3" cy="244.5" r="1.95"/><circle cx="124.2" cy="245.3" r="1.95"/><circle cx="125.2" cy="245.6" r="1.95"/><circle cx="126.1" cy="246.7" r="1.95"/><circle cx="127.1" cy="247.4" r="1.95"/><circle cx="128.0" cy="248.6" r="1.95"/><circle cx="129.0" cy="248.6" r="1.95"/><circle cx="129.9" cy="250.1" r="1.95"/><circle cx="130.9" cy="249.6" r="1.95"/><circle cx="131.8" cy="250.9" r="1.95"/><circle cx="132.8" cy="250.2" r="1.95"/><circle cx="133.7" cy="250.6" r="1.95"/><circle cx="134.7" cy="249.3" r="1.95"/><circle cx="135.6" cy="250.0" r="1.95"/><circle cx="136.6" cy="248.9" r="1.95"/><circle cx="137.5" cy="249.2" r="1.95"/><circle cx="138.5" cy="247.9" r="1.95"/><circle cx="139.4" cy="247.5" r="1.95"/><circle cx="140.4" cy="246.0" r="1.95"/><circle cx="141.3" cy="246.7" r="1.95"/><circle cx="142.3" cy="245.2" r="1.95"/><circle cx="143.2" cy="246.0" r="1.95"/><circle cx="144.2" cy="245.5" r="1.95"/><circle cx="145.1" cy="245.9" r="1.95"/><circle cx="146.1" cy="245.9" r="1.95"/><circle cx="147.0" cy="247.7" r="1.95"/><circle cx="148.0" cy="247.4" r="1.95"/><circle cx="148.9" cy="248.7" r="1.95"/><circle cx="149.9" cy="248.9" r="1.95"/><circle cx="150.8" cy="250.6" r="1.95"/><circle cx="151.8" cy="250.1" r="1.95"/><circle cx="152.7" cy="252.2" r="1.95"/><circle cx="153.7" cy="252.6" r="1.95"/><circle cx="154.6" cy="254.5" r="1.95"/><circle cx="155.6" cy="253.6" r="1.95"/><circle cx="156.5" cy="256.9" r="1.95"/><circle cx="157.5" cy="256.7" r="1.95"/><circle cx="158.4" cy="259.3" r="1.95"/><circle cx="159.4" cy="258.3" r="1.95"/><circle cx="160.3" cy="260.1" r="1.95"/><circle cx="161.3" cy="258.5" r="1.95"/><circle cx="162.2" cy="260.8" r="1.95"/><circle cx="163.2" cy="258.4" r="1.95"/><circle cx="164.1" cy="260.1" r="1.95"/><circle cx="165.1" cy="257.8" r="1.95"/><circle cx="166.0" cy="259.2" r="1.95"/><circle cx="167.0" cy="256.9" r="1.95"/><circle cx="167.9" cy="258.4" r="1.95"/><circle cx="168.9" cy="256.7" r="1.95"/><circle cx="169.8" cy="257.0" r="1.95"/><circle cx="170.8" cy="255.4" r="1.95"/><circle cx="171.7" cy="256.2" r="1.95"/><circle cx="172.7" cy="253.6" r="1.95"/><circle cx="173.6" cy="255.1" r="1.95"/><circle cx="174.6" cy="253.2" r="1.95"/><circle cx="175.5" cy="255.2" r="1.95"/><circle cx="176.5" cy="253.4" r="1.95"/><circle cx="177.4" cy="255.5" r="1.95"/><circle cx="178.4" cy="254.1" r="1.95"/><circle cx="179.3" cy="256.2" r="1.95"/><circle cx="180.3" cy="254.8" r="1.95"/><circle cx="181.2" cy="258.0" r="1.95"/><circle cx="182.2" cy="257.1" r="1.95"/><circle cx="183.1" cy="259.5" r="1.95"/><circle cx="184.1" cy="258.9" r="1.95"/><circle cx="185.0" cy="261.8" r="1.95"/><circle cx="186.0" cy="260.4" r="1.95"/><circle cx="186.9" cy="264.2" r="1.95"/><circle cx="187.9" cy="262.5" r="1.95"/><circle cx="188.8" cy="266.6" r="1.95"/><circle cx="189.8" cy="264.5" r="1.95"/><circle cx="190.7" cy="268.3" r="1.95"/><circle cx="191.7" cy="266.3" r="1.95"/><circle cx="192.6" cy="269.3" r="1.95"/><circle cx="193.6" cy="267.3" r="1.95"/><circle cx="194.5" cy="269.8" r="1.95"/><circle cx="195.5" cy="267.3" r="1.95"/><circle cx="196.4" cy="269.9" r="1.95"/><circle cx="197.4" cy="266.7" r="1.95"/><circle cx="198.3" cy="269.8" r="1.95"/><circle cx="199.3" cy="266.6" r="1.95"/><circle cx="200.2" cy="269.7" r="1.95"/><circle cx="201.2" cy="265.6" r="1.95"/><circle cx="202.1" cy="268.6" r="1.95"/><circle cx="203.1" cy="264.3" r="1.95"/><circle cx="204.0" cy="267.8" r="1.95"/><circle cx="205.0" cy="263.5" r="1.95"/><circle cx="205.9" cy="266.3" r="1.95"/><circle cx="206.9" cy="263.2" r="1.95"/><circle cx="207.8" cy="267.4" r="1.95"/><circle cx="208.8" cy="263.3" r="1.95"/><circle cx="209.7" cy="267.8" r="1.95"/><circle cx="210.7" cy="264.7" r="1.95"/><circle cx="211.6" cy="269.0" r="1.95"/><circle cx="212.6" cy="266.3" r="1.95"/><circle cx="213.5" cy="270.7" r="1.95"/><circle cx="214.5" cy="267.4" r="1.95"/><circle cx="215.4" cy="273.1" r="1.95"/><circle cx="216.4" cy="269.0" r="1.95"/><circle cx="217.3" cy="274.9" r="1.95"/><circle cx="218.3" cy="270.8" r="1.95"/><circle cx="219.2" cy="276.4" r="1.95"/><circle cx="220.2" cy="272.6" r="1.95"/><circle cx="221.1" cy="280.4" r="1.95"/><circle cx="222.1" cy="275.3" r="1.95"/><circle cx="223.0" cy="281.3" r="1.95"/><circle cx="224.0" cy="276.5" r="1.95"/><circle cx="224.9" cy="281.8" r="1.95"/><circle cx="225.9" cy="276.3" r="1.95"/><circle cx="226.8" cy="282.7" r="1.95"/><circle cx="227.8" cy="275.2" r="1.95"/><circle cx="228.7" cy="280.2" r="1.95"/><circle cx="229.7" cy="274.6" r="1.95"/><circle cx="230.6" cy="280.0" r="1.95"/><circle cx="231.6" cy="275.2" r="1.95"/><circle cx="232.5" cy="280.7" r="1.95"/><circle cx="233.5" cy="272.6" r="1.95"/><circle cx="234.4" cy="277.8" r="1.95"/><circle cx="235.4" cy="271.5" r="1.95"/><circle cx="236.3" cy="278.8" r="1.95"/><circle cx="237.3" cy="268.3" r="1.95"/><circle cx="238.2" cy="277.7" r="1.95"/><circle cx="239.2" cy="269.6" r="1.95"/><circle cx="240.1" cy="278.6" r="1.95"/><circle cx="241.1" cy="270.1" r="1.95"/><circle cx="242.0" cy="278.2" r="1.95"/><circle cx="243.0" cy="270.4" r="1.95"/><circle cx="243.9" cy="279.0" r="1.95"/><circle cx="244.9" cy="275.1" r="1.95"/><circle cx="245.8" cy="283.1" r="1.95"/><circle cx="246.8" cy="275.5" r="1.95"/><circle cx="247.7" cy="283.9" r="1.95"/><circle cx="248.7" cy="276.1" r="1.95"/><circle cx="249.6" cy="286.9" r="1.95"/><circle cx="250.6" cy="280.8" r="1.95"/><circle cx="251.5" cy="290.3" r="1.95"/><circle cx="252.5" cy="283.5" r="1.95"/><circle cx="253.4" cy="291.6" r="1.95"/><circle cx="254.4" cy="285.2" r="1.95"/><circle cx="255.3" cy="294.2" r="1.95"/><circle cx="256.3" cy="287.7" r="1.95"/><circle cx="257.2" cy="297.6" r="1.95"/><circle cx="258.2" cy="286.2" r="1.95"/><circle cx="259.1" cy="294.3" r="1.95"/><circle cx="260.1" cy="286.2" r="1.95"/><circle cx="261.0" cy="294.4" r="1.95"/><circle cx="262.0" cy="284.6" r="1.95"/><circle cx="262.9" cy="294.6" r="1.95"/><circle cx="263.9" cy="283.3" r="1.95"/><circle cx="264.8" cy="295.1" r="1.95"/><circle cx="265.8" cy="283.9" r="1.95"/><circle cx="266.7" cy="293.8" r="1.95"/><circle cx="267.7" cy="282.8" r="1.95"/><circle cx="268.6" cy="291.1" r="1.95"/><circle cx="269.6" cy="280.2" r="1.95"/><circle cx="270.5" cy="291.0" r="1.95"/><circle cx="271.5" cy="280.1" r="1.95"/><circle cx="272.4" cy="291.7" r="1.95"/><circle cx="273.4" cy="281.4" r="1.95"/><circle cx="274.3" cy="289.5" r="1.95"/><circle cx="275.3" cy="282.5" r="1.95"/><circle cx="276.2" cy="290.6" r="1.95"/><circle cx="277.2" cy="282.2" r="1.95"/><circle cx="278.1" cy="294.2" r="1.95"/><circle cx="279.1" cy="280.8" r="1.95"/><circle cx="280.0" cy="296.9" r="1.95"/><circle cx="281.0" cy="287.2" r="1.95"/><circle cx="281.9" cy="298.1" r="1.95"/><circle cx="282.9" cy="287.4" r="1.95"/><circle cx="283.8" cy="299.3" r="1.95"/><circle cx="284.8" cy="287.8" r="1.95"/><circle cx="285.7" cy="301.2" r="1.95"/><circle cx="286.7" cy="290.2" r="1.95"/><circle cx="287.6" cy="303.5" r="1.95"/><circle cx="288.6" cy="289.5" r="1.95"/><circle cx="289.5" cy="304.5" r="1.95"/><circle cx="290.5" cy="292.9" r="1.95"/><circle cx="291.4" cy="303.5" r="1.95"/><circle cx="292.4" cy="291.2" r="1.95"/><circle cx="293.3" cy="305.1" r="1.95"/><circle cx="294.3" cy="287.5" r="1.95"/><circle cx="295.2" cy="304.6" r="1.95"/><circle cx="296.2" cy="292.0" r="1.95"/><circle cx="297.1" cy="303.4" r="1.95"/><circle cx="298.1" cy="291.6" r="1.95"/><circle cx="299.0" cy="300.0" r="1.95"/><circle cx="300.0" cy="289.0" r="1.95"/><circle cx="300.9" cy="303.3" r="1.95"/><circle cx="301.9" cy="291.0" r="1.95"/><circle cx="302.8" cy="302.5" r="1.95"/><circle cx="303.8" cy="285.6" r="1.95"/><circle cx="304.7" cy="304.3" r="1.95"/><circle cx="305.7" cy="294.6" r="1.95"/><circle cx="306.6" cy="306.6" r="1.95"/><circle cx="307.6" cy="292.6" r="1.95"/><circle cx="308.5" cy="299.5" r="1.95"/><circle cx="309.5" cy="296.2" r="1.95"/><circle cx="310.4" cy="305.5" r="1.95"/><circle cx="287.3" cy="311.0" r="1.95"/><circle cx="309.4" cy="313.2" r="1.95"/><circle cx="253.0" cy="293.0" r="1.95"/><circle cx="257.0" cy="294.0" r="1.95"/><circle cx="262.0" cy="294.5" r="1.95"/><circle cx="266.0" cy="293.5" r="1.95"/><circle cx="279.5" cy="301.5" r="1.95"/><circle cx="283.0" cy="302.5" r="1.95"/><circle cx="286.0" cy="302.0" r="1.95"/><circle cx="296.5" cy="305.5" r="1.95"/><circle cx="300.0" cy="306.5" r="1.95"/><circle cx="303.5" cy="306.0" r="1.95"/><circle cx="290.0" cy="289.0" r="1.95"/><circle cx="296.0" cy="288.5" r="1.95"/><circle cx="301.0" cy="289.0" r="1.95"/><circle cx="306.0" cy="304.0" r="1.95"/><circle cx="308.5" cy="302.0" r="1.95"/></g>
<path d="M32.5,185.3 L33.5,184.4 L34.5,183.6 L35.5,183.0 L36.5,182.5 L37.5,182.0 L38.5,181.8 L39.5,181.6 L40.5,181.5 L41.5,181.4 L42.5,181.4 L43.5,181.5 L44.5,181.6 L45.5,181.8 L46.5,182.9 L47.5,185.0 L48.5,187.6 L49.5,190.9 L50.5,194.3 L51.5,197.5 L52.5,200.9 L53.5,203.6 L54.5,205.2 L55.5,206.4 L56.5,207.4 L57.5,208.2 L58.5,209.1 L59.5,210.1 L60.5,211.1 L61.5,212.1 L62.5,213.1 L63.5,214.1 L64.5,215.0 L65.5,215.9 L66.5,216.7 L67.5,217.6 L68.5,218.5 L69.5,219.2 L70.5,220.0 L71.5,220.6 L72.5,221.2 L73.5,221.7 L74.5,222.1 L75.5,222.6 L76.5,223.0 L77.5,223.4 L78.5,223.8 L79.5,224.2 L80.5,224.6 L81.5,225.0 L82.5,225.3 L83.5,225.6 L84.5,226.0 L85.5,226.3 L86.5,226.7 L87.5,227.1 L88.5,227.5 L89.5,228.0 L90.5,228.6 L91.5,229.2 L92.5,229.8 L93.5,230.5 L94.5,231.1 L95.5,231.7 L96.5,232.3 L97.5,232.9 L98.5,233.5 L99.5,234.1 L100.5,234.7 L101.5,235.3 L102.5,235.9 L103.5,236.5 L104.5,236.9 L105.5,237.0 L106.5,237.1 L107.5,237.2 L108.5,237.2 L109.5,237.2 L110.5,237.3 L111.5,237.3 L112.5,237.4 L113.5,237.5 L114.5,237.7 L115.5,238.2 L116.5,238.7 L117.5,239.3 L118.5,239.9 L119.5,240.5" fill="none" stroke="#fb0000" stroke-width="2.3" stroke-linejoin="round"/>
<path d="M110.0,237.2 L111.0,237.3 L112.0,237.3 L113.0,237.4 L114.0,237.6 L115.0,237.9 L116.0,238.4 L117.0,239.0 L118.0,239.6 L119.0,240.2 L120.0,240.8 L121.0,241.5 L122.0,242.2 L123.0,243.0 L124.0,243.8 L125.0,244.5 L126.0,245.1 L127.0,245.7 L128.0,246.3 L129.0,246.8 L130.0,247.3 L131.0,247.6 L132.0,247.8 L133.0,247.9 L134.0,247.9 L135.0,248.0 L136.0,248.0 L137.0,248.0 L138.0,247.9 L139.0,247.7 L140.0,247.4 L141.0,247.2 L142.0,247.0 L143.0,247.0 L144.0,247.3 L145.0,247.6 L146.0,248.1 L147.0,248.5 L148.0,249.0 L149.0,249.5 L150.0,250.1 L151.0,250.7 L152.0,251.4 L153.0,252.1 L154.0,252.8 L155.0,253.4 L156.0,254.1 L157.0,254.9 L158.0,255.7 L159.0,256.4 L160.0,256.9 L161.0,257.1 L162.0,257.2 L163.0,257.2 L164.0,257.2 L165.0,257.3 L166.0,257.3 L167.0,257.3 L168.0,257.2 L169.0,257.1 L170.0,256.9 L171.0,256.7 L172.0,256.5 L173.0,256.4 L174.0,256.4 L175.0,256.6 L176.0,256.8 L177.0,257.1 L178.0,257.4 L179.0,257.8 L180.0,258.2 L181.0,258.8 L182.0,259.5 L183.0,260.2 L184.0,260.9 L185.0,261.5 L186.0,262.2 L187.0,262.9 L188.0,263.6 L189.0,264.4 L190.0,265.1 L191.0,265.7 L192.0,266.2 L193.0,266.6 L194.0,266.9 L195.0,267.0 L196.0,267.2 L197.0,267.3 L198.0,267.4 L199.0,267.5 L200.0,267.5 L201.0,267.5 L202.0,267.4 L203.0,267.2 L204.0,267.1 L205.0,267.0 L206.0,267.0 L207.0,267.1 L208.0,267.4 L209.0,267.8 L210.0,268.3 L211.0,268.8 L212.0,269.3 L213.0,269.8 L214.0,270.4 L215.0,271.1 L216.0,271.7 L217.0,272.3 L218.0,273.0 L219.0,273.8 L220.0,274.6 L221.0,275.4 L222.0,276.1 L223.0,276.6 L224.0,277.0 L225.0,277.1 L226.0,277.2 L227.0,277.3 L228.0,277.3 L229.0,277.4 L230.0,277.4 L231.0,277.4 L232.0,277.3 L233.0,277.2 L234.0,276.9 L235.0,276.7 L236.0,276.5 L237.0,276.4 L238.0,276.4 L239.0,276.6 L240.0,276.9 L241.0,277.2 L242.0,277.6 L243.0,278.1 L244.0,278.7 L245.0,279.4 L246.0,280.2 L247.0,281.0 L248.0,281.8 L249.0,282.6 L250.0,283.5 L251.0,284.4 L252.0,285.3 L253.0,286.1 L254.0,286.8 L255.0,287.2 L256.0,287.5 L257.0,287.9 L258.0,288.1 L259.0,288.3 L260.0,288.5 L261.0,288.5 L262.0,288.5 L263.0,288.5 L264.0,288.4 L265.0,288.4 L266.0,288.3 L267.0,288.2 L268.0,288.0 L269.0,287.9 L270.0,287.8 L271.0,287.7 L272.0,287.8 L273.0,288.1 L274.0,288.4 L275.0,288.9 L276.0,289.3 L277.0,289.8 L278.0,290.3 L279.0,291.0 L280.0,291.6 L281.0,292.2 L282.0,292.8 L283.0,293.4 L284.0,294.0 L285.0,294.6 L286.0,295.1 L287.0,295.7 L288.0,296.1 L289.0,296.4 L290.0,296.5 L291.0,296.7 L292.0,296.8 L293.0,296.8 L294.0,296.9 L295.0,296.9 L296.0,296.9 L297.0,296.8 L298.0,296.7 L299.0,296.6 L300.0,296.6 L301.0,296.7 L302.0,296.9 L303.0,297.2 L304.0,297.5 L305.0,297.8 L306.0,298.1 L307.0,298.5 L308.0,299.0 L309.0,299.4" fill="none" stroke="#fb0000" stroke-width="1.9" stroke-linejoin="round"/>
<polygon points="150.0,250.1 151.0,250.7 152.0,251.4 153.0,252.1 154.0,252.8 155.0,253.4 156.0,254.1 157.0,254.9 158.0,255.7 159.0,256.4 160.0,256.9 161.0,257.1 162.0,257.2 163.0,257.2 164.0,257.2 165.0,257.3 166.0,257.3 167.0,257.2 168.0,257.2 169.0,257.0 170.0,256.8 171.0,256.6 172.0,256.4 173.0,256.2 174.0,256.2 175.0,256.4 176.0,256.6 177.0,256.9 178.0,257.2 179.0,257.5 180.0,257.9 181.0,258.5 182.0,259.1 183.0,259.8 184.0,260.5 185.0,261.1 186.0,261.7 187.0,262.4 188.0,263.1 189.0,263.8 190.0,264.5 191.0,265.1 192.0,265.6 193.0,266.0 194.0,266.2 195.0,266.3 196.0,266.5 197.0,266.6 198.0,266.6 199.0,266.7 200.0,266.7 201.0,266.6 202.0,266.5 203.0,266.3 204.0,266.2 205.0,266.0 206.0,266.0 207.0,266.0 208.0,266.3 209.0,266.7 210.0,267.1 211.0,267.6 212.0,268.0 213.0,268.5 214.0,269.1 215.0,269.7 216.0,270.2 217.0,270.8 218.0,271.5 219.0,272.2 220.0,272.9 221.0,273.7 222.0,274.3 223.0,274.8 224.0,275.1 225.0,275.2 226.0,275.2 227.0,275.2 228.0,275.2 229.0,275.2 230.0,275.2 231.0,275.1 232.0,275.0 233.0,274.8 234.0,274.5 235.0,274.2 236.0,274.0 237.0,273.8 238.0,273.8 239.0,273.9 240.0,274.2 241.0,274.5 242.0,274.9 243.0,275.4 244.0,276.1 245.0,276.9 246.0,277.7 247.0,278.6 248.0,279.4 249.0,280.3 250.0,281.3 251.0,282.3 252.0,283.3 253.0,284.1 254.0,284.9 255.0,285.3 256.0,285.8 257.0,286.2 258.0,286.5 259.0,286.8 260.0,287.0 261.0,287.2 262.0,287.2 263.0,287.3 264.0,287.4 265.0,287.4 266.0,287.3 267.0,287.2 268.0,287.0 269.0,286.8 270.0,286.7 271.0,286.6 272.0,286.7 273.0,287.0 274.0,287.3 275.0,287.7 276.0,288.1 277.0,288.6 278.0,289.2 279.0,289.8 280.0,290.4 281.0,291.0 282.0,291.5 283.0,292.1 284.0,292.7 285.0,293.3 286.0,293.8 287.0,294.3 288.0,294.7 289.0,295.0 290.0,295.2 291.0,295.3 292.0,295.4 293.0,295.4 294.0,295.5 295.0,295.5 296.0,295.4 297.0,295.4 298.0,295.3 299.0,295.2 300.0,295.1 301.0,295.2 302.0,295.4 303.0,295.7 304.0,296.0 305.0,296.3 306.0,296.6 307.0,297.0 308.0,297.4 309.0,297.9 309.0,301.0 308.0,300.5 307.0,300.1 306.0,299.7 305.0,299.3 304.0,299.0 303.0,298.7 302.0,298.4 301.0,298.2 300.0,298.1 299.0,298.1 298.0,298.2 297.0,298.2 296.0,298.3 295.0,298.3 294.0,298.3 293.0,298.2 292.0,298.1 291.0,298.0 290.0,297.9 289.0,297.7 288.0,297.4 287.0,297.0 286.0,296.4 285.0,295.9 284.0,295.2 283.0,294.6 282.0,294.0 281.0,293.5 280.0,292.8 279.0,292.2 278.0,291.5 277.0,290.9 276.0,290.5 275.0,290.0 274.0,289.6 273.0,289.2 272.0,288.9 271.0,288.8 270.0,288.8 269.0,288.9 268.0,289.1 267.0,289.2 266.0,289.3 265.0,289.3 264.0,289.4 263.0,289.6 262.0,289.7 261.0,289.8 260.0,289.9 259.0,289.9 258.0,289.7 257.0,289.6 256.0,289.3 255.0,289.0 254.0,288.7 253.0,288.1 252.0,287.4 251.0,286.6 250.0,285.7 249.0,284.8 248.0,284.1 247.0,283.4 246.0,282.6 245.0,281.9 244.0,281.2 243.0,280.7 242.0,280.3 241.0,279.9 240.0,279.7 239.0,279.3 238.0,279.1 237.0,279.0 236.0,279.0 235.0,279.2 234.0,279.4 233.0,279.5 232.0,279.7 231.0,279.7 230.0,279.6 229.0,279.5 228.0,279.4 227.0,279.3 226.0,279.2 225.0,279.1 224.0,278.9 223.0,278.4 222.0,277.8 221.0,277.1 220.0,276.3 219.0,275.4 218.0,274.6 217.0,273.8 216.0,273.2 215.0,272.5 214.0,271.8 213.0,271.2 212.0,270.6 211.0,270.0 210.0,269.5 209.0,269.0 208.0,268.5 207.0,268.2 206.0,268.0 205.0,268.0 204.0,268.1 203.0,268.2 202.0,268.3 201.0,268.3 200.0,268.3 199.0,268.3 198.0,268.2 197.0,268.0 196.0,267.9 195.0,267.7 194.0,267.5 193.0,267.2 192.0,266.8 191.0,266.3 190.0,265.6 189.0,264.9 188.0,264.1 187.0,263.3 186.0,262.6 185.0,262.0 184.0,261.3 183.0,260.5 182.0,259.8 181.0,259.1 180.0,258.5 179.0,258.1 178.0,257.7 177.0,257.3 176.0,257.0 175.0,256.8 174.0,256.6 173.0,256.6 172.0,256.7 171.0,256.8 170.0,257.0 169.0,257.2 168.0,257.3 167.0,257.4 166.0,257.3 165.0,257.3 164.0,257.3 163.0,257.2 162.0,257.2 161.0,257.1 160.0,256.9 159.0,256.4 158.0,255.7 157.0,254.9 156.0,254.1 155.0,253.4 154.0,252.8 153.0,252.1 152.0,251.4 151.0,250.7 150.0,250.1" fill="#fb0000"/>
<path d="M32.5,185.6 L33.4,184.1 L34.3,184.1 L35.2,182.8 L36.1,183.0 L37.0,181.9 L37.9,182.2 L38.8,181.4 L39.7,181.9 L40.6,181.1 L41.5,181.8 L42.4,181.1 L43.3,181.8 L44.2,181.2 L45.1,182.1 L46.0,181.8 L46.9,184.1 L47.8,185.3 L48.7,188.5 L49.6,190.9 L50.5,194.6 L51.4,195.2 L52.3,203.1 L53.2,199.4 L54.1,207.9 L55.0,202.3 L55.9,210.6 L56.8,204.0 L57.7,213.1 L58.6,205.4 L59.5,213.1 L60.4,207.7 L61.3,213.9 L62.2,209.7 L63.1,216.2 L64.0,212.8 L64.9,216.3 L65.8,215.4 L66.7,217.6 L67.6,217.0 L68.5,219.2 L69.4,218.5 L70.3,220.5 L71.2,219.7 L72.1,221.6 L73.0,220.7 L73.9,222.6 L74.8,221.6 L75.7,223.4 L76.6,222.4 L77.5,224.1 L78.4,223.1 L79.3,224.8 L80.2,223.8 L81.1,225.5 L82.0,224.4 L82.9,226.1 L83.8,225.0 L84.7,226.7 L85.6,225.6 L86.5,227.4 L87.4,226.3 L88.3,228.1 L89.2,227.2 L90.1,229.1 L91.0,228.2 L91.9,230.1 L92.8,229.3 L93.7,231.3 L94.6,230.5 L95.5,232.4 L96.4,231.6 L97.3,233.5 L98.2,232.7 L99.1,234.6 L100.0,233.7 L100.9,235.6 L101.8,234.8 L102.7,236.7 L103.6,235.9 L104.5,237.6 L105.4,236.3 L106.3,237.8 L107.2,236.4 L108.1,237.9 L109.0,236.5 L109.9,237.9 L110.8,236.4 L111.7,238.2 L112.6,236.4 L113.5,238.4 L114.4,236.8 L115.3,239.0 L116.2,237.6 L117.1,240.0 L118.0,238.6 L118.9,241.1 L119.8,239.7 L120.7,242.3 L121.6,240.9 L122.5,243.7 L123.4,242.3 L124.3,245.1 L125.2,243.5 L126.1,246.2 L127.0,244.6 L127.9,247.3 L128.8,245.6 L129.7,248.3 L130.6,246.4 L131.5,248.9 L132.4,246.7 L133.3,249.1 L134.2,246.7 L135.1,249.2 L136.0,246.8 L136.9,249.2 L137.8,246.7 L138.7,249.0 L139.6,246.3 L140.5,248.5 L141.4,245.8 L142.3,248.3 L143.2,245.8 L144.1,248.6 L145.0,246.3 L145.9,249.4 L146.8,247.1 L147.7,250.2 L148.6,247.9 L149.5,251.2 L150.4,248.9 L151.3,252.3 L152.2,250.1 L153.1,253.6 L154.0,251.3 L154.9,254.8 L155.8,252.5 L156.7,256.2 L157.6,253.9 L158.5,257.6 L159.4,255.1 L160.3,258.5 L161.2,255.5 L162.1,258.7 L163.0,255.6 L163.9,258.9 L164.8,255.6 L165.7,258.9 L166.6,255.6 L167.5,259.0 L168.4,255.5 L169.3,258.7 L170.2,255.1 L171.1,258.4 L172.0,254.8 L172.9,258.2 L173.8,254.6 L174.7,258.3 L175.6,254.9 L176.5,258.8 L177.4,255.4 L178.3,259.4 L179.2,256.0 L180.1,260.2 L181.0,256.9 L181.9,261.3 L182.8,258.1 L183.7,262.6 L184.6,259.3 L185.5,263.9 L186.4,260.4 L187.3,265.2 L188.2,261.7 L189.1,266.5 L190.0,262.9 L190.9,267.8 L191.8,263.9 L192.7,268.7 L193.6,264.5 L194.5,269.2 L195.4,264.8 L196.3,269.5 L197.2,265.0 L198.1,269.8 L199.0,265.1 L199.9,269.9 L200.8,265.0 L201.7,269.9 L202.6,264.8 L203.5,269.7 L204.4,264.5 L205.3,269.6 L206.2,264.4 L207.1,269.8 L208.0,264.7 L208.9,270.6 L209.8,265.4 L210.7,271.5 L211.6,266.2 L212.5,272.5 L213.4,267.1 L214.3,273.6 L215.2,268.2 L216.1,274.8 L217.0,269.2 L217.9,276.1 L218.8,270.4 L219.7,277.6 L220.6,271.8 L221.5,279.1 L222.4,272.9 L223.3,280.2 L224.2,273.5 L225.1,280.7 L226.0,273.6 L226.9,280.9 L227.8,273.6 L228.7,281.1 L229.6,273.6 L230.5,281.2 L231.4,273.5 L232.3,281.2 L233.2,273.1 L234.1,280.9 L235.0,272.6 L235.9,280.6 L236.8,272.2 L237.7,280.6 L238.6,272.3 L239.5,281.1 L240.4,272.7 L241.3,281.8 L242.2,273.2 L243.1,282.6 L244.0,274.1" fill="none" stroke="#fb0000" stroke-width="1.1" stroke-linejoin="miter"/>
<path d="M243.5,282.9 L244.6,274.5 L245.7,284.6 L246.9,276.2 L248.0,286.5 L249.1,277.8 L250.2,288.6 L251.3,279.8 L252.5,290.8 L253.6,281.4 L254.7,292.2 L255.8,282.3 L256.9,293.1 L258.1,282.8 L259.2,293.8 L260.3,283.0 L261.4,294.0 L262.5,282.9 L263.7,294.1 L264.8,282.7 L265.9,294.0 L267.0,282.4 L268.1,293.9 L269.3,282.0 L270.4,293.6 L271.5,281.8 L272.6,293.9 L273.7,282.3 L274.9,294.9 L276.0,283.2 L277.1,296.0 L278.2,284.3 L279.3,297.4 L280.5,285.6 L281.6,298.8 L282.7,286.8 L283.8,300.2 L284.9,288.1 L286.1,301.6 L287.2,289.3 L288.3,302.7 L289.4,289.9 L290.5,303.2 L291.7,290.1 L292.8,303.5 L293.9,290.2 L295.0,303.6 L296.1,290.1 L297.3,303.5 L298.4,289.9 L299.5,303.4 L300.6,289.8 L301.7,303.7 L302.9,290.2 L304.0,304.4 L305.1,290.9 L306.2,305.2 L307.3,291.7 L308.5,306.2 L309.6,292.7" fill="none" stroke="#fb0000" stroke-width="1.25" stroke-linejoin="miter"/>
</g>
<g stroke="#111" stroke-width="1.3" fill="none">
<rect x="32.6" y="1.5" width="277.29999999999995" height="329.3"/>
<line x1="32.6" y1="166.2" x2="309.9" y2="166.2" stroke-width="0.95"/>
<path d="M39.5,166.2v-3.0M39.5,330.8v-2.8M57.5,166.2v-5.0M57.5,330.8v-5.8M75.5,166.2v-3.0M75.5,330.8v-2.8M93.5,166.2v-5.0M93.5,330.8v-5.8M111.5,166.2v-3.0M111.5,330.8v-2.8M129.6,166.2v-5.0M129.6,330.8v-5.8M147.6,166.2v-3.0M147.6,330.8v-2.8M165.6,166.2v-5.0M165.6,330.8v-5.8M183.6,166.2v-3.0M183.6,330.8v-2.8M201.6,166.2v-5.0M201.6,330.8v-5.8M219.6,166.2v-3.0M219.6,330.8v-2.8M237.6,166.2v-5.0M237.6,330.8v-5.8M255.6,166.2v-3.0M255.6,330.8v-2.8M273.6,166.2v-5.0M273.6,330.8v-5.8M291.6,166.2v-3.0M291.6,330.8v-2.8" stroke-width="1"/>
</g>
<g font-family="Liberation Serif, serif" fill="#111">
<text x="76.8" y="38.8" font-size="41.5" textLength="43.5" lengthAdjust="spacingAndGlyphs">(a)</text>
<text x="162.5" y="26" font-size="23.5" textLength="141.5" lengthAdjust="spacingAndGlyphs">Homojunction</text>
<text x="157.5" y="190.2" font-size="23.3" fill="#e8141c" textLength="146.3" lengthAdjust="spacingAndGlyphs">Heterojunction</text>
<circle cx="208.1" cy="47.7" r="1.7" fill="#fff" stroke="#777" stroke-width="0.6"/>
<line x1="192.4" y1="65.8" x2="224.26000000000002" y2="65.8" stroke="#f00000" stroke-width="1.6"/>
<text x="228.0" y="53.099999999999994" font-size="14" textLength="52.6" lengthAdjust="spacingAndGlyphs">Raw data</text>
<text x="228.0" y="70.1" font-size="14" textLength="61.4" lengthAdjust="spacingAndGlyphs">Simulation</text>
<circle cx="209.3" cy="207" r="1.7" fill="#fff" stroke="#777" stroke-width="0.6"/>
<line x1="192.4" y1="224.6" x2="224.98000000000002" y2="224.6" stroke="#f00000" stroke-width="1.6"/>
<text x="229.20000000000002" y="211.8" font-size="14" textLength="52.6" lengthAdjust="spacingAndGlyphs">Raw data</text>
<text x="229.20000000000002" y="229.3" font-size="14" textLength="61.4" lengthAdjust="spacingAndGlyphs">Simulation</text>
<text x="35.5" y="145" font-size="13.3" textLength="241.3" lengthAdjust="spacingAndGlyphs">Surface Roughness : 0.43 nm (@WIZO S/D)</text>
<text x="35.5" y="161.5" font-size="13.3" textLength="263.4" lengthAdjust="spacingAndGlyphs">Interface Roughness : 0.17 nm (@WIZO-WIZO)</text>
<text x="36.5" y="307" font-size="13.3" textLength="228.5" lengthAdjust="spacingAndGlyphs">Surface Roughness : 1.97 nm (@ITO S/D)</text>
<text x="36.5" y="323.5" font-size="13.3" textLength="250" lengthAdjust="spacingAndGlyphs">Interface Roughness : 0.39 nm (@WIZO-ITO)</text>
<text x="57.5" y="350.4" font-size="16.5" text-anchor="middle">1</text>
<text x="93.5" y="350.4" font-size="16.5" text-anchor="middle">2</text>
<text x="129.6" y="350.4" font-size="16.5" text-anchor="middle">3</text>
<text x="165.6" y="350.4" font-size="16.5" text-anchor="middle">4</text>
<text x="201.6" y="350.4" font-size="16.5" text-anchor="middle">5</text>
<text x="237.6" y="350.4" font-size="16.5" text-anchor="middle">6</text>
<text x="273.6" y="350.4" font-size="16.5" text-anchor="middle">7</text>
<text x="309.6" y="350.4" font-size="16.5" text-anchor="middle">8</text>
<text x="114.3" y="379.8" font-size="23.2" textLength="116" lengthAdjust="spacingAndGlyphs">2θ (Degree)</text>
<text transform="translate(19,330.3) rotate(-90)" font-size="24.5" textLength="329.5" lengthAdjust="spacingAndGlyphs">Normalized Intensity (Arb.Units)</text>
<text x="342.8" y="30" font-size="35.5" textLength="40" lengthAdjust="spacingAndGlyphs">(b)</text>
</g>
<defs>
<filter id="nz1" x="0" y="0" width="100%" height="100%" color-interpolation-filters="sRGB">
 <feTurbulence type="fractalNoise" baseFrequency="0.61 0.17" numOctaves="3" seed="3" result="t"/>
 <feColorMatrix in="t" type="matrix" values="0.46 0 0 0 0.168  0.40 0 0 0 0.072  0.11 0 0 0 0.0  0 0 0 0 1" result="c"/>
 <feComposite in="c" in2="SourceAlpha" operator="in"/>
</filter>
<filter id="nz2" x="0" y="0" width="100%" height="100%" color-interpolation-filters="sRGB">
 <feTurbulence type="fractalNoise" baseFrequency="0.83 0.37" numOctaves="3" seed="11" result="t"/>
 <feColorMatrix in="t" type="matrix" values="0.72 0 0 0 -0.04  0.56 0 0 0 -0.10  0.13 0 0 0 -0.035  0 0 0 0 1" result="c"/>
 <feTurbulence type="fractalNoise" baseFrequency="0.47 0.11" numOctaves="2" seed="29" result="t2"/>
 <feColorMatrix in="t2" type="matrix" values="0 0 0 0 0.62  0 0 0 0 0.55  0 0 0 0 0.30  7 0 0 0 -4.35" result="h"/>
 <feComposite in="h" in2="c" operator="over" result="m"/>
 <feComposite in="m" in2="SourceAlpha" operator="in"/>
</filter>
<linearGradient id="spk" x1="0" y1="0" x2="0" y2="1"><stop offset="0" stop-color="#b0a46c" stop-opacity="0.95"/><stop offset="0.6" stop-color="#9a8850" stop-opacity="0.8"/><stop offset="1" stop-color="#7a5a20" stop-opacity="0.2"/></linearGradient>
<linearGradient id="sh1" gradientUnits="userSpaceOnUse" x1="353" y1="120" x2="600" y2="70">
 <stop offset="0" stop-color="#241000" stop-opacity="0.52"/><stop offset="0.5" stop-color="#241000" stop-opacity="0.33"/><stop offset="0.72" stop-color="#241000" stop-opacity="0.06"/><stop offset="0.78" stop-color="#d8a030" stop-opacity="0.0"/><stop offset="1" stop-color="#d8a030" stop-opacity="0.22"/>
</linearGradient>
<linearGradient id="sh2" gradientUnits="userSpaceOnUse" x1="380" y1="240" x2="600" y2="300">
 <stop offset="0" stop-color="#160900" stop-opacity="0.50"/><stop offset="0.5" stop-color="#160900" stop-opacity="0.36"/><stop offset="0.75" stop-color="#160900" stop-opacity="0.08"/><stop offset="0.8" stop-color="#a05a10" stop-opacity="0.0"/><stop offset="1" stop-color="#b87020" stop-opacity="0.30"/>
</linearGradient>
</defs>
<g stroke="#2a2a2a" stroke-width="0.8" fill="none">
<path d="M350.9,113 L352.5,112 L480.7,185.3 L609.3,112.3 M608.8,75.5 V112.5 M608.8,75.5 h2.5 M608.8,94 h2 M608.8,112.3 h2.5"/>
<path d="M350.9,279.5 L352.5,278.6 L480.7,350.7 L609.3,279 M608.8,241.5 V279 M608.8,241.5 h2.5 M608.8,260 h2 M608.8,279 h2.5"/>
<path d="M416.6,149 l1.5,-2.2 M545,148.8 l-1.5,-2.2 M416.6,315 l1.5,-2.2 M545,315 l-1.5,-2.2"/>
</g>
<polygon points="352.8,95.9 353.9,94.3 355.0,93.3 356.1,92.0 357.3,91.7 358.4,90.1 359.5,89.5 359.5,88.8 360.5,88.3 361.5,80.5 362.5,87.5 363.5,87.6 364.5,82.1 365.5,85.5 366.5,81.5 367.5,84.7 368.5,83.7 369.5,82.4 370.5,83.2 371.6,82.5 372.6,82.2 373.6,79.9 374.6,80.7 375.6,75.3 376.6,79.3 377.6,76.6 378.6,77.8 379.6,76.0 380.6,73.5 381.6,76.6 382.6,72.5 383.6,75.1 384.6,74.8 385.6,70.7 386.6,69.9 387.6,73.3 388.6,70.0 389.6,66.8 390.6,70.1 391.6,68.4 392.6,69.0 393.6,66.9 394.6,68.3 395.7,68.0 396.7,66.0 397.7,66.1 398.7,63.8 399.7,61.6 400.7,61.5 401.7,61.3 402.7,63.8 403.7,63.0 404.7,58.7 405.7,60.5 406.7,60.8 407.7,59.6 408.7,60.3 409.7,58.9 410.7,58.6 411.7,55.0 412.7,58.1 413.7,54.4 414.7,54.1 415.7,54.6 416.7,56.0 417.7,54.9 418.8,54.4 419.8,52.5 420.8,52.1 421.8,49.8 422.8,50.0 423.8,49.4 424.8,51.3 425.8,50.6 426.8,50.1 427.8,48.9 428.8,46.9 429.8,47.1 430.8,47.5 431.8,42.4 432.8,41.3 433.8,41.9 434.8,40.4 435.8,39.8 436.8,43.7 437.8,42.7 438.8,35.7 439.8,41.3 440.8,41.3 441.9,40.9 442.9,39.3 443.9,37.9 444.9,38.3 445.9,38.8 446.9,37.1 447.9,36.8 448.9,37.1 449.9,35.8 450.9,34.0 451.9,34.9 452.9,32.3 453.9,33.5 454.9,33.1 455.9,31.7 456.9,31.2 457.9,28.9 458.9,26.6 459.9,29.8 460.9,28.6 461.9,27.6 462.9,24.4 463.9,25.6 464.9,27.4 466.0,23.8 467.0,25.0 468.0,23.2 469.0,22.7 470.0,17.9 471.0,20.0 472.0,18.9 473.0,22.0 474.0,21.7 475.0,20.7 476.0,21.1 477.0,14.1 477.0,18.5 478.0,17.3 479.0,21.2 480.0,17.8 481.0,21.9 482.0,22.5 483.0,19.3 484.0,19.2 485.0,23.2 486.0,24.2 487.0,24.2 488.0,22.5 489.0,26.8 490.0,25.5 491.0,25.9 492.0,28.8 493.0,29.1 494.0,29.5 495.0,30.3 496.0,27.2 497.0,30.4 498.0,32.1 499.0,31.9 500.0,33.0 501.0,31.4 502.0,29.6 503.0,34.8 504.0,34.9 505.0,34.0 506.0,35.9 507.0,34.9 508.0,36.8 509.0,38.2 510.0,37.9 511.0,37.4 512.0,38.4 513.0,39.5 514.0,39.6 515.0,41.1 516.0,39.2 517.0,37.4 518.0,42.0 519.0,41.9 520.0,39.6 521.0,43.2 522.0,45.2 523.0,45.5 524.0,45.0 525.0,47.2 526.0,45.2 527.0,45.9 528.0,47.9 529.0,47.7 530.0,47.3 531.0,49.9 532.0,49.7 533.0,51.0 534.0,48.6 535.0,49.6 536.0,52.2 537.0,53.2 538.0,54.4 539.0,47.3 540.0,54.9 541.0,54.2 542.0,52.0 543.0,53.6 544.0,55.0 545.0,57.2 546.0,58.4 547.0,59.4 548.0,56.9 549.0,57.9 550.0,60.7 551.0,61.7 552.0,58.7 553.0,61.3 554.0,62.0 555.0,61.5 556.0,60.1 557.0,58.9 558.0,63.8 559.0,65.0 560.0,60.7 561.0,62.3 562.0,66.5 563.0,67.6 564.0,66.9 565.0,68.0 566.0,68.8 567.0,70.5 568.0,64.6 569.0,67.8 570.0,71.8 571.0,67.5 572.0,69.8 573.0,72.4 574.0,73.1 575.0,73.9 576.0,71.5 577.0,71.8 578.0,74.6 579.0,77.0 580.0,77.5 581.0,75.7 582.0,76.8 583.0,77.1 584.0,79.5 585.0,80.0 586.0,81.0 587.0,78.4 588.0,82.3 589.0,82.0 590.0,83.2 591.0,82.0 592.0,80.5 593.0,81.5 594.0,83.8 595.0,83.8 596.0,83.0 597.0,82.6 598.0,85.6 599.0,87.8 600.0,87.9 601.0,89.5 602.0,90.0 603.0,84.3 604.0,89.7 605.0,91.5 606.0,88.4 607.0,90.0 608.0,92.5 608.3,100.9 607.3,100.8 606.2,102.1 605.2,104.0 604.2,104.5 603.2,104.2 602.1,105.0 601.1,105.5 600.1,106.3 599.1,107.1 598.0,108.2 597.0,109.1 597.0,109.4 596.0,114.1 595.0,109.8 594.0,111.6 593.0,111.0 592.0,111.8 591.0,112.8 590.0,117.5 589.0,118.1 588.0,114.8 587.0,116.3 586.0,114.8 585.0,117.6 584.0,119.0 583.0,118.5 581.9,118.8 580.9,118.3 579.9,118.1 578.9,120.3 577.9,123.6 576.9,125.1 575.9,120.4 574.9,120.9 573.9,123.4 572.9,121.7 571.9,123.8 570.9,126.8 569.9,123.8 568.9,123.8 567.9,124.9 566.9,128.2 565.9,127.3 564.9,126.4 563.9,127.6 562.9,132.2 561.9,128.4 560.9,127.9 559.9,129.6 558.9,128.9 557.9,130.9 556.9,130.5 555.9,131.4 554.9,134.7 553.9,133.4 552.8,132.4 551.8,134.7 550.8,136.0 549.8,135.9 548.8,137.3 547.8,138.0 546.8,135.6 545.8,135.9 544.8,139.4 543.8,138.5 542.8,138.9 541.8,139.3 540.8,140.5 539.8,142.1 538.8,140.9 537.8,142.9 536.8,141.1 535.8,143.7 534.8,141.7 533.8,145.1 532.8,148.9 531.8,144.3 530.8,146.2 529.8,147.1 528.8,145.7 527.8,146.8 526.8,146.1 525.8,148.9 524.8,147.9 523.7,150.0 522.7,148.4 521.7,152.3 520.7,150.4 519.7,152.9 518.7,150.9 517.7,153.2 516.7,151.9 515.7,153.6 514.7,153.8 513.7,154.0 512.7,154.0 511.7,155.0 510.7,158.3 509.7,159.0 508.7,157.6 507.7,158.4 506.7,157.0 505.7,160.3 504.7,162.8 503.7,161.6 502.7,161.5 501.7,162.2 500.7,162.1 499.7,167.4 498.7,162.7 497.7,161.7 496.7,164.4 495.7,164.7 494.6,163.7 493.6,165.9 492.6,170.4 491.6,166.1 490.6,167.3 489.6,168.4 488.6,167.2 487.6,170.3 486.6,171.7 485.6,169.4 484.6,169.3 483.6,169.3 482.6,169.7 481.6,172.6 480.6,172.3 480.6,173.7 479.6,170.6 478.6,172.9 477.6,173.9 476.6,171.1 475.6,168.0 474.6,167.3 473.6,167.8 472.5,167.5 471.5,169.6 470.5,165.3 469.5,167.7 468.5,164.6 467.5,164.9 466.5,163.4 465.5,163.3 464.5,162.4 463.5,161.3 462.5,162.0 461.5,161.7 460.5,160.6 459.5,162.6 458.5,158.6 457.5,158.6 456.4,157.0 455.4,162.9 454.4,157.0 453.4,156.3 452.4,157.4 451.4,154.6 450.4,155.5 449.4,156.6 448.4,153.2 447.4,151.7 446.4,153.5 445.4,152.4 444.4,150.4 443.4,150.2 442.4,151.7 441.4,153.4 440.3,149.3 439.3,147.0 438.3,148.4 437.3,149.0 436.3,145.3 435.3,147.4 434.3,145.6 433.3,144.6 432.3,150.9 431.3,144.3 430.3,143.6 429.3,141.3 428.3,141.1 427.3,140.0 426.3,141.0 425.3,138.8 424.2,140.7 423.2,142.6 422.2,138.3 421.2,136.7 420.2,135.9 419.2,140.8 418.2,135.4 417.2,135.3 416.2,137.4 415.2,133.6 414.2,133.1 413.2,131.9 412.2,134.8 411.2,131.1 410.2,133.1 409.2,129.5 408.1,131.7 407.1,128.7 406.1,129.0 405.1,129.1 404.1,127.1 403.1,127.9 402.1,126.9 401.1,126.8 400.1,125.8 399.1,125.3 398.1,123.8 397.1,122.7 396.1,122.5 395.1,121.5 394.1,122.3 393.1,120.6 392.0,120.5 391.0,122.6 390.0,125.0 389.0,118.9 388.0,119.4 387.0,117.1 386.0,116.6 385.0,119.2 384.0,115.4 383.0,117.6 382.0,117.6 381.0,115.5 380.0,113.2 379.0,112.7 378.0,113.0 377.0,113.0 375.9,113.1 374.9,110.6 373.9,111.8 372.9,110.9 371.9,108.6 370.9,107.6 369.9,108.6 368.9,107.0 367.9,108.2 366.9,105.1 365.9,105.5 364.9,105.4 363.9,104.2 362.9,105.8 361.9,102.8 360.9,102.3 359.8,101.3 358.8,102.7 357.8,102.5 356.8,99.5 355.8,99.3 354.8,102.3 353.8,98.1 352.8,97.2" fill="#6b4a10"/>
<polygon points="352.8,95.9 353.9,94.3 355.0,93.3 356.1,92.0 357.3,91.7 358.4,90.1 359.5,89.5 359.5,88.8 360.5,88.3 361.5,80.5 362.5,87.5 363.5,87.6 364.5,82.1 365.5,85.5 366.5,81.5 367.5,84.7 368.5,83.7 369.5,82.4 370.5,83.2 371.6,82.5 372.6,82.2 373.6,79.9 374.6,80.7 375.6,75.3 376.6,79.3 377.6,76.6 378.6,77.8 379.6,76.0 380.6,73.5 381.6,76.6 382.6,72.5 383.6,75.1 384.6,74.8 385.6,70.7 386.6,69.9 387.6,73.3 388.6,70.0 389.6,66.8 390.6,70.1 391.6,68.4 392.6,69.0 393.6,66.9 394.6,68.3 395.7,68.0 396.7,66.0 397.7,66.1 398.7,63.8 399.7,61.6 400.7,61.5 401.7,61.3 402.7,63.8 403.7,63.0 404.7,58.7 405.7,60.5 406.7,60.8 407.7,59.6 408.7,60.3 409.7,58.9 410.7,58.6 411.7,55.0 412.7,58.1 413.7,54.4 414.7,54.1 415.7,54.6 416.7,56.0 417.7,54.9 418.8,54.4 419.8,52.5 420.8,52.1 421.8,49.8 422.8,50.0 423.8,49.4 424.8,51.3 425.8,50.6 426.8,50.1 427.8,48.9 428.8,46.9 429.8,47.1 430.8,47.5 431.8,42.4 432.8,41.3 433.8,41.9 434.8,40.4 435.8,39.8 436.8,43.7 437.8,42.7 438.8,35.7 439.8,41.3 440.8,41.3 441.9,40.9 442.9,39.3 443.9,37.9 444.9,38.3 445.9,38.8 446.9,37.1 447.9,36.8 448.9,37.1 449.9,35.8 450.9,34.0 451.9,34.9 452.9,32.3 453.9,33.5 454.9,33.1 455.9,31.7 456.9,31.2 457.9,28.9 458.9,26.6 459.9,29.8 460.9,28.6 461.9,27.6 462.9,24.4 463.9,25.6 464.9,27.4 466.0,23.8 467.0,25.0 468.0,23.2 469.0,22.7 470.0,17.9 471.0,20.0 472.0,18.9 473.0,22.0 474.0,21.7 475.0,20.7 476.0,21.1 477.0,14.1 477.0,18.5 478.0,17.3 479.0,21.2 480.0,17.8 481.0,21.9 482.0,22.5 483.0,19.3 484.0,19.2 485.0,23.2 486.0,24.2 487.0,24.2 488.0,22.5 489.0,26.8 490.0,25.5 491.0,25.9 492.0,28.8 493.0,29.1 494.0,29.5 495.0,30.3 496.0,27.2 497.0,30.4 498.0,32.1 499.0,31.9 500.0,33.0 501.0,31.4 502.0,29.6 503.0,34.8 504.0,34.9 505.0,34.0 506.0,35.9 507.0,34.9 508.0,36.8 509.0,38.2 510.0,37.9 511.0,37.4 512.0,38.4 513.0,39.5 514.0,39.6 515.0,41.1 516.0,39.2 517.0,37.4 518.0,42.0 519.0,41.9 520.0,39.6 521.0,43.2 522.0,45.2 523.0,45.5 524.0,45.0 525.0,47.2 526.0,45.2 527.0,45.9 528.0,47.9 529.0,47.7 530.0,47.3 531.0,49.9 532.0,49.7 533.0,51.0 534.0,48.6 535.0,49.6 536.0,52.2 537.0,53.2 538.0,54.4 539.0,47.3 540.0,54.9 541.0,54.2 542.0,52.0 543.0,53.6 544.0,55.0 545.0,57.2 546.0,58.4 547.0,59.4 548.0,56.9 549.0,57.9 550.0,60.7 551.0,61.7 552.0,58.7 553.0,61.3 554.0,62.0 555.0,61.5 556.0,60.1 557.0,58.9 558.0,63.8 559.0,65.0 560.0,60.7 561.0,62.3 562.0,66.5 563.0,67.6 564.0,66.9 565.0,68.0 566.0,68.8 567.0,70.5 568.0,64.6 569.0,67.8 570.0,71.8 571.0,67.5 572.0,69.8 573.0,72.4 574.0,73.1 575.0,73.9 576.0,71.5 577.0,71.8 578.0,74.6 579.0,77.0 580.0,77.5 581.0,75.7 582.0,76.8 583.0,77.1 584.0,79.5 585.0,80.0 586.0,81.0 587.0,78.4 588.0,82.3 589.0,82.0 590.0,83.2 591.0,82.0 592.0,80.5 593.0,81.5 594.0,83.8 595.0,83.8 596.0,83.0 597.0,82.6 598.0,85.6 599.0,87.8 600.0,87.9 601.0,89.5 602.0,90.0 603.0,84.3 604.0,89.7 605.0,91.5 606.0,88.4 607.0,90.0 608.0,92.5 608.3,100.9 607.3,100.8 606.2,102.1 605.2,104.0 604.2,104.5 603.2,104.2 602.1,105.0 601.1,105.5 600.1,106.3 599.1,107.1 598.0,108.2 597.0,109.1 597.0,109.4 596.0,114.1 595.0,109.8 594.0,111.6 593.0,111.0 592.0,111.8 591.0,112.8 590.0,117.5 589.0,118.1 588.0,114.8 587.0,116.3 586.0,114.8 585.0,117.6 584.0,119.0 583.0,118.5 581.9,118.8 580.9,118.3 579.9,118.1 578.9,120.3 577.9,123.6 576.9,125.1 575.9,120.4 574.9,120.9 573.9,123.4 572.9,121.7 571.9,123.8 570.9,126.8 569.9,123.8 568.9,123.8 567.9,124.9 566.9,128.2 565.9,127.3 564.9,126.4 563.9,127.6 562.9,132.2 561.9,128.4 560.9,127.9 559.9,129.6 558.9,128.9 557.9,130.9 556.9,130.5 555.9,131.4 554.9,134.7 553.9,133.4 552.8,132.4 551.8,134.7 550.8,136.0 549.8,135.9 548.8,137.3 547.8,138.0 546.8,135.6 545.8,135.9 544.8,139.4 543.8,138.5 542.8,138.9 541.8,139.3 540.8,140.5 539.8,142.1 538.8,140.9 537.8,142.9 536.8,141.1 535.8,143.7 534.8,141.7 533.8,145.1 532.8,148.9 531.8,144.3 530.8,146.2 529.8,147.1 528.8,145.7 527.8,146.8 526.8,146.1 525.8,148.9 524.8,147.9 523.7,150.0 522.7,148.4 521.7,152.3 520.7,150.4 519.7,152.9 518.7,150.9 517.7,153.2 516.7,151.9 515.7,153.6 514.7,153.8 513.7,154.0 512.7,154.0 511.7,155.0 510.7,158.3 509.7,159.0 508.7,157.6 507.7,158.4 506.7,157.0 505.7,160.3 504.7,162.8 503.7,161.6 502.7,161.5 501.7,162.2 500.7,162.1 499.7,167.4 498.7,162.7 497.7,161.7 496.7,164.4 495.7,164.7 494.6,163.7 493.6,165.9 492.6,170.4 491.6,166.1 490.6,167.3 489.6,168.4 488.6,167.2 487.6,170.3 486.6,171.7 485.6,169.4 484.6,169.3 483.6,169.3 482.6,169.7 481.6,172.6 480.6,172.3 480.6,173.7 479.6,170.6 478.6,172.9 477.6,173.9 476.6,171.1 475.6,168.0 474.6,167.3 473.6,167.8 472.5,167.5 471.5,169.6 470.5,165.3 469.5,167.7 468.5,164.6 467.5,164.9 466.5,163.4 465.5,163.3 464.5,162.4 463.5,161.3 462.5,162.0 461.5,161.7 460.5,160.6 459.5,162.6 458.5,158.6 457.5,158.6 456.4,157.0 455.4,162.9 454.4,157.0 453.4,156.3 452.4,157.4 451.4,154.6 450.4,155.5 449.4,156.6 448.4,153.2 447.4,151.7 446.4,153.5 445.4,152.4 444.4,150.4 443.4,150.2 442.4,151.7 441.4,153.4 440.3,149.3 439.3,147.0 438.3,148.4 437.3,149.0 436.3,145.3 435.3,147.4 434.3,145.6 433.3,144.6 432.3,150.9 431.3,144.3 430.3,143.6 429.3,141.3 428.3,141.1 427.3,140.0 426.3,141.0 425.3,138.8 424.2,140.7 423.2,142.6 422.2,138.3 421.2,136.7 420.2,135.9 419.2,140.8 418.2,135.4 417.2,135.3 416.2,137.4 415.2,133.6 414.2,133.1 413.2,131.9 412.2,134.8 411.2,131.1 410.2,133.1 409.2,129.5 408.1,131.7 407.1,128.7 406.1,129.0 405.1,129.1 404.1,127.1 403.1,127.9 402.1,126.9 401.1,126.8 400.1,125.8 399.1,125.3 398.1,123.8 397.1,122.7 396.1,122.5 395.1,121.5 394.1,122.3 393.1,120.6 392.0,120.5 391.0,122.6 390.0,125.0 389.0,118.9 388.0,119.4 387.0,117.1 386.0,116.6 385.0,119.2 384.0,115.4 383.0,117.6 382.0,117.6 381.0,115.5 380.0,113.2 379.0,112.7 378.0,113.0 377.0,113.0 375.9,113.1 374.9,110.6 373.9,111.8 372.9,110.9 371.9,108.6 370.9,107.6 369.9,108.6 368.9,107.0 367.9,108.2 366.9,105.1 365.9,105.5 364.9,105.4 363.9,104.2 362.9,105.8 361.9,102.8 360.9,102.3 359.8,101.3 358.8,102.7 357.8,102.5 356.8,99.5 355.8,99.3 354.8,102.3 353.8,98.1 352.8,97.2" fill="#000" filter="url(#nz1)"/>
<polygon points="352.8,95.9 353.9,94.3 355.0,93.3 356.1,92.0 357.3,91.7 358.4,90.1 359.5,89.5 359.5,88.8 360.5,88.3 361.5,80.5 362.5,87.5 363.5,87.6 364.5,82.1 365.5,85.5 366.5,81.5 367.5,84.7 368.5,83.7 369.5,82.4 370.5,83.2 371.6,82.5 372.6,82.2 373.6,79.9 374.6,80.7 375.6,75.3 376.6,79.3 377.6,76.6 378.6,77.8 379.6,76.0 380.6,73.5 381.6,76.6 382.6,72.5 383.6,75.1 384.6,74.8 385.6,70.7 386.6,69.9 387.6,73.3 388.6,70.0 389.6,66.8 390.6,70.1 391.6,68.4 392.6,69.0 393.6,66.9 394.6,68.3 395.7,68.0 396.7,66.0 397.7,66.1 398.7,63.8 399.7,61.6 400.7,61.5 401.7,61.3 402.7,63.8 403.7,63.0 404.7,58.7 405.7,60.5 406.7,60.8 407.7,59.6 408.7,60.3 409.7,58.9 410.7,58.6 411.7,55.0 412.7,58.1 413.7,54.4 414.7,54.1 415.7,54.6 416.7,56.0 417.7,54.9 418.8,54.4 419.8,52.5 420.8,52.1 421.8,49.8 422.8,50.0 423.8,49.4 424.8,51.3 425.8,50.6 426.8,50.1 427.8,48.9 428.8,46.9 429.8,47.1 430.8,47.5 431.8,42.4 432.8,41.3 433.8,41.9 434.8,40.4 435.8,39.8 436.8,43.7 437.8,42.7 438.8,35.7 439.8,41.3 440.8,41.3 441.9,40.9 442.9,39.3 443.9,37.9 444.9,38.3 445.9,38.8 446.9,37.1 447.9,36.8 448.9,37.1 449.9,35.8 450.9,34.0 451.9,34.9 452.9,32.3 453.9,33.5 454.9,33.1 455.9,31.7 456.9,31.2 457.9,28.9 458.9,26.6 459.9,29.8 460.9,28.6 461.9,27.6 462.9,24.4 463.9,25.6 464.9,27.4 466.0,23.8 467.0,25.0 468.0,23.2 469.0,22.7 470.0,17.9 471.0,20.0 472.0,18.9 473.0,22.0 474.0,21.7 475.0,20.7 476.0,21.1 477.0,14.1 477.0,18.5 478.0,17.3 479.0,21.2 480.0,17.8 481.0,21.9 482.0,22.5 483.0,19.3 484.0,19.2 485.0,23.2 486.0,24.2 487.0,24.2 488.0,22.5 489.0,26.8 490.0,25.5 491.0,25.9 492.0,28.8 493.0,29.1 494.0,29.5 495.0,30.3 496.0,27.2 497.0,30.4 498.0,32.1 499.0,31.9 500.0,33.0 501.0,31.4 502.0,29.6 503.0,34.8 504.0,34.9 505.0,34.0 506.0,35.9 507.0,34.9 508.0,36.8 509.0,38.2 510.0,37.9 511.0,37.4 512.0,38.4 513.0,39.5 514.0,39.6 515.0,41.1 516.0,39.2 517.0,37.4 518.0,42.0 519.0,41.9 520.0,39.6 521.0,43.2 522.0,45.2 523.0,45.5 524.0,45.0 525.0,47.2 526.0,45.2 527.0,45.9 528.0,47.9 529.0,47.7 530.0,47.3 531.0,49.9 532.0,49.7 533.0,51.0 534.0,48.6 535.0,49.6 536.0,52.2 537.0,53.2 538.0,54.4 539.0,47.3 540.0,54.9 541.0,54.2 542.0,52.0 543.0,53.6 544.0,55.0 545.0,57.2 546.0,58.4 547.0,59.4 548.0,56.9 549.0,57.9 550.0,60.7 551.0,61.7 552.0,58.7 553.0,61.3 554.0,62.0 555.0,61.5 556.0,60.1 557.0,58.9 558.0,63.8 559.0,65.0 560.0,60.7 561.0,62.3 562.0,66.5 563.0,67.6 564.0,66.9 565.0,68.0 566.0,68.8 567.0,70.5 568.0,64.6 569.0,67.8 570.0,71.8 571.0,67.5 572.0,69.8 573.0,72.4 574.0,73.1 575.0,73.9 576.0,71.5 577.0,71.8 578.0,74.6 579.0,77.0 580.0,77.5 581.0,75.7 582.0,76.8 583.0,77.1 584.0,79.5 585.0,80.0 586.0,81.0 587.0,78.4 588.0,82.3 589.0,82.0 590.0,83.2 591.0,82.0 592.0,80.5 593.0,81.5 594.0,83.8 595.0,83.8 596.0,83.0 597.0,82.6 598.0,85.6 599.0,87.8 600.0,87.9 601.0,89.5 602.0,90.0 603.0,84.3 604.0,89.7 605.0,91.5 606.0,88.4 607.0,90.0 608.0,92.5 608.3,100.9 607.3,100.8 606.2,102.1 605.2,104.0 604.2,104.5 603.2,104.2 602.1,105.0 601.1,105.5 600.1,106.3 599.1,107.1 598.0,108.2 597.0,109.1 597.0,109.4 596.0,114.1 595.0,109.8 594.0,111.6 593.0,111.0 592.0,111.8 591.0,112.8 590.0,117.5 589.0,118.1 588.0,114.8 587.0,116.3 586.0,114.8 585.0,117.6 584.0,119.0 583.0,118.5 581.9,118.8 580.9,118.3 579.9,118.1 578.9,120.3 577.9,123.6 576.9,125.1 575.9,120.4 574.9,120.9 573.9,123.4 572.9,121.7 571.9,123.8 570.9,126.8 569.9,123.8 568.9,123.8 567.9,124.9 566.9,128.2 565.9,127.3 564.9,126.4 563.9,127.6 562.9,132.2 561.9,128.4 560.9,127.9 559.9,129.6 558.9,128.9 557.9,130.9 556.9,130.5 555.9,131.4 554.9,134.7 553.9,133.4 552.8,132.4 551.8,134.7 550.8,136.0 549.8,135.9 548.8,137.3 547.8,138.0 546.8,135.6 545.8,135.9 544.8,139.4 543.8,138.5 542.8,138.9 541.8,139.3 540.8,140.5 539.8,142.1 538.8,140.9 537.8,142.9 536.8,141.1 535.8,143.7 534.8,141.7 533.8,145.1 532.8,148.9 531.8,144.3 530.8,146.2 529.8,147.1 528.8,145.7 527.8,146.8 526.8,146.1 525.8,148.9 524.8,147.9 523.7,150.0 522.7,148.4 521.7,152.3 520.7,150.4 519.7,152.9 518.7,150.9 517.7,153.2 516.7,151.9 515.7,153.6 514.7,153.8 513.7,154.0 512.7,154.0 511.7,155.0 510.7,158.3 509.7,159.0 508.7,157.6 507.7,158.4 506.7,157.0 505.7,160.3 504.7,162.8 503.7,161.6 502.7,161.5 501.7,162.2 500.7,162.1 499.7,167.4 498.7,162.7 497.7,161.7 496.7,164.4 495.7,164.7 494.6,163.7 493.6,165.9 492.6,170.4 491.6,166.1 490.6,167.3 489.6,168.4 488.6,167.2 487.6,170.3 486.6,171.7 485.6,169.4 484.6,169.3 483.6,169.3 482.6,169.7 481.6,172.6 480.6,172.3 480.6,173.7 479.6,170.6 478.6,172.9 477.6,173.9 476.6,171.1 475.6,168.0 474.6,167.3 473.6,167.8 472.5,167.5 471.5,169.6 470.5,165.3 469.5,167.7 468.5,164.6 467.5,164.9 466.5,163.4 465.5,163.3 464.5,162.4 463.5,161.3 462.5,162.0 461.5,161.7 460.5,160.6 459.5,162.6 458.5,158.6 457.5,158.6 456.4,157.0 455.4,162.9 454.4,157.0 453.4,156.3 452.4,157.4 451.4,154.6 450.4,155.5 449.4,156.6 448.4,153.2 447.4,151.7 446.4,153.5 445.4,152.4 444.4,150.4 443.4,150.2 442.4,151.7 441.4,153.4 440.3,149.3 439.3,147.0 438.3,148.4 437.3,149.0 436.3,145.3 435.3,147.4 434.3,145.6 433.3,144.6 432.3,150.9 431.3,144.3 430.3,143.6 429.3,141.3 428.3,141.1 427.3,140.0 426.3,141.0 425.3,138.8 424.2,140.7 423.2,142.6 422.2,138.3 421.2,136.7 420.2,135.9 419.2,140.8 418.2,135.4 417.2,135.3 416.2,137.4 415.2,133.6 414.2,133.1 413.2,131.9 412.2,134.8 411.2,131.1 410.2,133.1 409.2,129.5 408.1,131.7 407.1,128.7 406.1,129.0 405.1,129.1 404.1,127.1 403.1,127.9 402.1,126.9 401.1,126.8 400.1,125.8 399.1,125.3 398.1,123.8 397.1,122.7 396.1,122.5 395.1,121.5 394.1,122.3 393.1,120.6 392.0,120.5 391.0,122.6 390.0,125.0 389.0,118.9 388.0,119.4 387.0,117.1 386.0,116.6 385.0,119.2 384.0,115.4 383.0,117.6 382.0,117.6 381.0,115.5 380.0,113.2 379.0,112.7 378.0,113.0 377.0,113.0 375.9,113.1 374.9,110.6 373.9,111.8 372.9,110.9 371.9,108.6 370.9,107.6 369.9,108.6 368.9,107.0 367.9,108.2 366.9,105.1 365.9,105.5 364.9,105.4 363.9,104.2 362.9,105.8 361.9,102.8 360.9,102.3 359.8,101.3 358.8,102.7 357.8,102.5 356.8,99.5 355.8,99.3 354.8,102.3 353.8,98.1 352.8,97.2" fill="url(#sh1)"/>
<polyline points="608,97.5 480.6,167.8 356,98" fill="none" stroke="#241000" stroke-opacity="0.15" stroke-width="3"/>
<polygon points="353.0,268.4 354.0,271.0 355.0,270.1 356.0,269.8 357.0,269.0 358.0,268.7 359.0,267.8 360.0,268.0 361.0,266.1 362.0,266.2 363.0,265.0 364.0,264.9 365.0,262.1 366.0,262.8 367.0,263.3 368.0,263.5 369.0,256.4 370.0,257.2 371.0,261.2 372.0,259.9 373.0,259.1 374.0,259.0 375.0,259.4 376.0,257.9 377.0,257.8 378.0,257.1 379.0,256.4 380.0,255.3 381.0,252.9 382.0,254.4 383.0,252.8 384.0,252.6 385.0,253.1 386.0,252.0 387.0,250.9 388.0,251.7 389.0,248.7 390.0,250.3 391.0,248.1 392.0,248.1 393.0,247.3 394.0,247.8 395.0,247.3 396.0,244.0 397.0,245.4 398.0,244.3 399.0,238.0 400.0,239.6 401.0,243.4 402.0,243.0 403.0,242.6 404.0,240.7 405.0,241.5 406.0,239.3 407.0,240.1 408.0,239.9 409.0,233.4 410.0,237.3 411.0,237.8 412.0,237.6 413.0,235.9 414.0,235.8 415.0,235.6 416.0,228.1 417.0,234.6 418.0,234.0 419.0,230.7 420.0,231.1 421.0,231.9 422.0,231.5 423.0,229.8 424.0,229.6 425.0,224.4 426.0,228.0 427.0,228.4 428.0,225.6 429.0,225.7 430.0,226.7 431.0,224.5 432.0,224.7 433.0,225.2 434.0,224.7 435.0,223.9 436.0,223.1 437.0,221.6 438.0,222.2 439.0,221.5 440.0,218.3 441.0,219.9 442.0,215.3 443.0,218.9 444.0,216.8 445.0,215.2 446.0,216.6 447.0,214.4 448.0,213.5 449.0,214.3 450.0,213.3 451.0,214.5 452.0,213.1 453.0,212.4 454.0,210.7 455.0,212.1 456.0,211.0 457.0,210.9 458.0,209.5 459.0,207.9 460.0,207.1 461.0,208.3 462.0,206.8 463.0,204.6 464.0,205.0 465.0,204.7 466.0,205.1 467.0,205.1 468.0,202.9 469.0,203.0 470.0,197.1 471.0,202.8 472.0,199.8 473.0,200.1 474.0,196.4 475.0,197.7 476.0,198.1 477.0,199.0 478.0,195.8 479.0,197.9 480.0,196.3 480.0,192.0 481.0,197.0 482.0,198.0 483.0,198.1 484.0,192.9 485.0,199.5 486.0,199.2 487.0,201.2 488.0,200.7 489.0,200.3 490.0,201.6 491.0,203.6 492.0,203.9 493.1,203.8 494.1,202.4 495.1,204.7 496.1,206.6 497.1,204.4 498.1,206.9 499.1,207.1 500.1,208.6 501.1,209.1 502.1,209.1 503.1,210.2 504.1,209.4 505.1,209.5 506.1,212.3 507.1,208.3 508.1,209.7 509.1,213.4 510.1,214.9 511.1,215.4 512.1,210.1 513.1,214.1 514.1,215.1 515.1,217.4 516.1,217.0 517.1,217.8 518.1,217.6 519.2,219.4 520.2,219.1 521.2,217.5 522.2,218.9 523.2,222.4 524.2,222.7 525.2,222.9 526.2,224.2 527.2,224.2 528.2,225.4 529.2,224.8 530.2,224.7 531.2,225.9 532.2,226.7 533.2,227.7 534.2,228.6 535.2,227.3 536.2,229.1 537.2,230.1 538.2,230.3 539.2,231.8 540.2,230.4 541.2,232.9 542.2,233.1 543.2,232.4 544.3,232.6 545.3,235.0 546.3,235.0 547.3,235.6 548.3,237.1 549.3,235.9 550.3,237.4 551.3,238.2 552.3,238.8 553.3,239.2 554.3,238.0 555.3,237.9 556.3,237.4 557.3,241.7 558.3,240.9 559.3,243.2 560.3,243.0 561.3,243.9 562.3,239.6 563.3,244.6 564.3,243.8 565.3,246.6 566.3,245.6 567.3,245.6 568.3,243.5 569.4,248.4 570.4,248.8 571.4,249.1 572.4,249.2 573.4,251.0 574.4,250.9 575.4,252.5 576.4,253.0 577.4,253.1 578.4,251.9 579.4,254.7 580.4,253.3 581.4,255.8 582.4,254.1 583.4,254.3 584.4,256.7 585.4,258.5 586.4,257.9 587.4,259.7 588.4,257.0 589.4,260.0 590.4,259.9 591.4,261.0 592.4,259.8 593.4,262.3 594.4,262.4 595.5,262.5 596.5,265.0 597.5,264.6 598.5,264.8 599.5,266.3 600.5,265.9 601.5,265.8 602.5,266.6 603.5,268.3 604.5,269.0 605.5,269.9 606.5,269.5 607.5,271.1 607.8,273.2 606.8,274.6 605.9,275.4 604.9,276.4 604.0,277.6 603.0,278.8 603.0,280.2 602.0,279.5 601.0,280.1 600.0,282.8 599.0,282.1 598.0,281.9 597.0,282.7 596.0,282.7 595.0,284.1 594.0,283.8 593.0,284.8 592.0,285.3 591.0,285.5 590.0,286.2 589.0,286.8 588.0,287.3 587.0,288.2 586.0,289.2 585.0,288.8 584.0,289.7 583.0,290.1 582.0,291.4 581.0,291.8 580.0,293.4 579.0,292.6 578.0,293.9 577.0,293.8 576.0,294.4 575.0,294.7 574.0,296.5 573.0,296.1 572.0,297.5 571.0,297.2 570.0,298.3 569.0,300.8 568.0,299.2 567.0,302.6 566.0,299.9 565.0,300.9 564.0,301.1 563.0,302.9 562.0,302.5 561.0,304.2 560.0,303.9 559.0,303.9 558.0,304.4 557.0,305.4 556.0,306.3 555.0,306.3 554.0,307.1 553.0,307.5 552.0,308.2 551.0,309.2 550.0,309.6 549.0,311.1 548.0,310.6 547.0,311.8 546.0,311.4 545.0,312.2 544.0,313.1 543.0,313.5 542.0,314.0 541.0,314.2 540.0,314.9 539.0,318.1 538.0,318.3 537.0,316.7 536.0,319.5 535.0,318.2 534.0,318.3 533.0,318.9 532.0,321.5 531.0,321.2 530.0,321.2 529.0,321.7 528.0,322.7 527.0,323.8 526.0,323.8 525.0,323.6 524.0,324.6 523.0,325.1 522.0,325.0 521.0,327.2 520.0,329.4 519.0,328.6 518.0,328.3 517.0,328.3 516.0,329.1 515.0,329.8 514.0,329.7 513.0,331.2 512.0,331.1 511.0,332.1 510.0,331.9 509.0,333.4 508.0,333.0 507.0,334.3 506.0,335.3 505.0,335.4 504.0,336.3 503.0,336.3 502.0,336.6 501.0,337.1 500.0,338.9 499.0,339.3 498.0,339.6 497.0,339.8 496.0,340.4 495.0,342.4 494.0,343.3 493.0,342.0 492.0,344.3 491.0,344.4 490.0,344.5 489.0,346.3 488.0,344.7 487.0,345.6 486.0,346.3 485.0,348.0 484.0,347.1 483.0,347.7 482.0,349.3 481.0,349.0 481.0,349.6 480.0,348.6 479.0,347.6 478.0,347.9 477.0,346.3 476.0,345.8 475.0,345.8 474.0,345.4 473.0,344.7 472.0,344.6 471.0,343.2 470.0,343.1 469.0,341.9 468.0,342.7 467.0,342.2 466.0,340.8 465.0,341.9 464.0,340.1 463.0,339.4 462.0,338.8 461.0,338.0 460.0,338.9 459.0,336.8 458.0,336.6 457.0,337.0 456.0,337.1 455.0,335.4 454.0,335.1 453.0,332.9 452.0,332.9 451.0,331.7 450.0,331.7 449.0,331.5 448.0,330.3 447.0,332.2 446.0,330.0 445.0,328.4 444.0,327.9 443.0,327.5 442.0,327.9 441.0,326.4 440.0,326.5 439.0,326.3 438.0,324.7 437.0,324.3 436.0,323.9 435.0,324.1 434.0,322.3 433.0,322.0 432.0,321.2 431.0,321.9 430.0,321.2 429.0,319.4 428.0,319.3 427.0,318.7 426.0,317.9 425.0,317.4 424.0,317.5 423.0,318.0 422.0,315.4 421.0,315.6 420.0,315.7 419.0,316.7 418.0,313.3 417.0,315.6 416.0,312.6 415.0,311.9 414.0,311.3 413.0,310.8 412.0,310.6 411.0,310.4 410.0,311.2 409.0,308.6 408.0,309.6 407.0,307.0 406.0,306.6 405.0,306.4 404.0,305.2 403.0,305.5 402.0,304.3 401.0,304.3 400.0,303.8 399.0,302.9 398.0,302.8 397.0,302.4 396.0,300.8 395.0,301.3 394.0,300.3 393.0,299.3 392.0,300.1 391.0,298.9 390.0,298.9 389.0,298.7 388.0,296.6 387.0,295.8 386.0,296.3 385.0,294.4 384.0,295.4 383.0,293.7 382.0,293.1 381.0,292.4 380.0,292.6 379.0,291.5 378.0,291.1 377.0,291.1 376.0,289.4 375.0,289.4 374.0,288.4 373.0,287.7 372.0,288.3 371.0,288.0 370.0,288.0 369.0,285.6 368.0,285.4 367.0,284.4 366.0,284.4 365.0,283.9 364.0,283.6 363.0,283.1 362.0,283.2 361.0,281.1 360.0,282.4 360.0,280.5 359.0,279.8 358.0,278.9 357.0,277.4 356.0,276.7 355.0,275.9 354.0,275.0 353.0,274.2" fill="#4a2e08"/>
<polygon points="353.0,268.4 354.0,271.0 355.0,270.1 356.0,269.8 357.0,269.0 358.0,268.7 359.0,267.8 360.0,268.0 361.0,266.1 362.0,266.2 363.0,265.0 364.0,264.9 365.0,262.1 366.0,262.8 367.0,263.3 368.0,263.5 369.0,256.4 370.0,257.2 371.0,261.2 372.0,259.9 373.0,259.1 374.0,259.0 375.0,259.4 376.0,257.9 377.0,257.8 378.0,257.1 379.0,256.4 380.0,255.3 381.0,252.9 382.0,254.4 383.0,252.8 384.0,252.6 385.0,253.1 386.0,252.0 387.0,250.9 388.0,251.7 389.0,248.7 390.0,250.3 391.0,248.1 392.0,248.1 393.0,247.3 394.0,247.8 395.0,247.3 396.0,244.0 397.0,245.4 398.0,244.3 399.0,238.0 400.0,239.6 401.0,243.4 402.0,243.0 403.0,242.6 404.0,240.7 405.0,241.5 406.0,239.3 407.0,240.1 408.0,239.9 409.0,233.4 410.0,237.3 411.0,237.8 412.0,237.6 413.0,235.9 414.0,235.8 415.0,235.6 416.0,228.1 417.0,234.6 418.0,234.0 419.0,230.7 420.0,231.1 421.0,231.9 422.0,231.5 423.0,229.8 424.0,229.6 425.0,224.4 426.0,228.0 427.0,228.4 428.0,225.6 429.0,225.7 430.0,226.7 431.0,224.5 432.0,224.7 433.0,225.2 434.0,224.7 435.0,223.9 436.0,223.1 437.0,221.6 438.0,222.2 439.0,221.5 440.0,218.3 441.0,219.9 442.0,215.3 443.0,218.9 444.0,216.8 445.0,215.2 446.0,216.6 447.0,214.4 448.0,213.5 449.0,214.3 450.0,213.3 451.0,214.5 452.0,213.1 453.0,212.4 454.0,210.7 455.0,212.1 456.0,211.0 457.0,210.9 458.0,209.5 459.0,207.9 460.0,207.1 461.0,208.3 462.0,206.8 463.0,204.6 464.0,205.0 465.0,204.7 466.0,205.1 467.0,205.1 468.0,202.9 469.0,203.0 470.0,197.1 471.0,202.8 472.0,199.8 473.0,200.1 474.0,196.4 475.0,197.7 476.0,198.1 477.0,199.0 478.0,195.8 479.0,197.9 480.0,196.3 480.0,192.0 481.0,197.0 482.0,198.0 483.0,198.1 484.0,192.9 485.0,199.5 486.0,199.2 487.0,201.2 488.0,200.7 489.0,200.3 490.0,201.6 491.0,203.6 492.0,203.9 493.1,203.8 494.1,202.4 495.1,204.7 496.1,206.6 497.1,204.4 498.1,206.9 499.1,207.1 500.1,208.6 501.1,209.1 502.1,209.1 503.1,210.2 504.1,209.4 505.1,209.5 506.1,212.3 507.1,208.3 508.1,209.7 509.1,213.4 510.1,214.9 511.1,215.4 512.1,210.1 513.1,214.1 514.1,215.1 515.1,217.4 516.1,217.0 517.1,217.8 518.1,217.6 519.2,219.4 520.2,219.1 521.2,217.5 522.2,218.9 523.2,222.4 524.2,222.7 525.2,222.9 526.2,224.2 527.2,224.2 528.2,225.4 529.2,224.8 530.2,224.7 531.2,225.9 532.2,226.7 533.2,227.7 534.2,228.6 535.2,227.3 536.2,229.1 537.2,230.1 538.2,230.3 539.2,231.8 540.2,230.4 541.2,232.9 542.2,233.1 543.2,232.4 544.3,232.6 545.3,235.0 546.3,235.0 547.3,235.6 548.3,237.1 549.3,235.9 550.3,237.4 551.3,238.2 552.3,238.8 553.3,239.2 554.3,238.0 555.3,237.9 556.3,237.4 557.3,241.7 558.3,240.9 559.3,243.2 560.3,243.0 561.3,243.9 562.3,239.6 563.3,244.6 564.3,243.8 565.3,246.6 566.3,245.6 567.3,245.6 568.3,243.5 569.4,248.4 570.4,248.8 571.4,249.1 572.4,249.2 573.4,251.0 574.4,250.9 575.4,252.5 576.4,253.0 577.4,253.1 578.4,251.9 579.4,254.7 580.4,253.3 581.4,255.8 582.4,254.1 583.4,254.3 584.4,256.7 585.4,258.5 586.4,257.9 587.4,259.7 588.4,257.0 589.4,260.0 590.4,259.9 591.4,261.0 592.4,259.8 593.4,262.3 594.4,262.4 595.5,262.5 596.5,265.0 597.5,264.6 598.5,264.8 599.5,266.3 600.5,265.9 601.5,265.8 602.5,266.6 603.5,268.3 604.5,269.0 605.5,269.9 606.5,269.5 607.5,271.1 607.8,273.2 606.8,274.6 605.9,275.4 604.9,276.4 604.0,277.6 603.0,278.8 603.0,280.2 602.0,279.5 601.0,280.1 600.0,282.8 599.0,282.1 598.0,281.9 597.0,282.7 596.0,282.7 595.0,284.1 594.0,283.8 593.0,284.8 592.0,285.3 591.0,285.5 590.0,286.2 589.0,286.8 588.0,287.3 587.0,288.2 586.0,289.2 585.0,288.8 584.0,289.7 583.0,290.1 582.0,291.4 581.0,291.8 580.0,293.4 579.0,292.6 578.0,293.9 577.0,293.8 576.0,294.4 575.0,294.7 574.0,296.5 573.0,296.1 572.0,297.5 571.0,297.2 570.0,298.3 569.0,300.8 568.0,299.2 567.0,302.6 566.0,299.9 565.0,300.9 564.0,301.1 563.0,302.9 562.0,302.5 561.0,304.2 560.0,303.9 559.0,303.9 558.0,304.4 557.0,305.4 556.0,306.3 555.0,306.3 554.0,307.1 553.0,307.5 552.0,308.2 551.0,309.2 550.0,309.6 549.0,311.1 548.0,310.6 547.0,311.8 546.0,311.4 545.0,312.2 544.0,313.1 543.0,313.5 542.0,314.0 541.0,314.2 540.0,314.9 539.0,318.1 538.0,318.3 537.0,316.7 536.0,319.5 535.0,318.2 534.0,318.3 533.0,318.9 532.0,321.5 531.0,321.2 530.0,321.2 529.0,321.7 528.0,322.7 527.0,323.8 526.0,323.8 525.0,323.6 524.0,324.6 523.0,325.1 522.0,325.0 521.0,327.2 520.0,329.4 519.0,328.6 518.0,328.3 517.0,328.3 516.0,329.1 515.0,329.8 514.0,329.7 513.0,331.2 512.0,331.1 511.0,332.1 510.0,331.9 509.0,333.4 508.0,333.0 507.0,334.3 506.0,335.3 505.0,335.4 504.0,336.3 503.0,336.3 502.0,336.6 501.0,337.1 500.0,338.9 499.0,339.3 498.0,339.6 497.0,339.8 496.0,340.4 495.0,342.4 494.0,343.3 493.0,342.0 492.0,344.3 491.0,344.4 490.0,344.5 489.0,346.3 488.0,344.7 487.0,345.6 486.0,346.3 485.0,348.0 484.0,347.1 483.0,347.7 482.0,349.3 481.0,349.0 481.0,349.6 480.0,348.6 479.0,347.6 478.0,347.9 477.0,346.3 476.0,345.8 475.0,345.8 474.0,345.4 473.0,344.7 472.0,344.6 471.0,343.2 470.0,343.1 469.0,341.9 468.0,342.7 467.0,342.2 466.0,340.8 465.0,341.9 464.0,340.1 463.0,339.4 462.0,338.8 461.0,338.0 460.0,338.9 459.0,336.8 458.0,336.6 457.0,337.0 456.0,337.1 455.0,335.4 454.0,335.1 453.0,332.9 452.0,332.9 451.0,331.7 450.0,331.7 449.0,331.5 448.0,330.3 447.0,332.2 446.0,330.0 445.0,328.4 444.0,327.9 443.0,327.5 442.0,327.9 441.0,326.4 440.0,326.5 439.0,326.3 438.0,324.7 437.0,324.3 436.0,323.9 435.0,324.1 434.0,322.3 433.0,322.0 432.0,321.2 431.0,321.9 430.0,321.2 429.0,319.4 428.0,319.3 427.0,318.7 426.0,317.9 425.0,317.4 424.0,317.5 423.0,318.0 422.0,315.4 421.0,315.6 420.0,315.7 419.0,316.7 418.0,313.3 417.0,315.6 416.0,312.6 415.0,311.9 414.0,311.3 413.0,310.8 412.0,310.6 411.0,310.4 410.0,311.2 409.0,308.6 408.0,309.6 407.0,307.0 406.0,306.6 405.0,306.4 404.0,305.2 403.0,305.5 402.0,304.3 401.0,304.3 400.0,303.8 399.0,302.9 398.0,302.8 397.0,302.4 396.0,300.8 395.0,301.3 394.0,300.3 393.0,299.3 392.0,300.1 391.0,298.9 390.0,298.9 389.0,298.7 388.0,296.6 387.0,295.8 386.0,296.3 385.0,294.4 384.0,295.4 383.0,293.7 382.0,293.1 381.0,292.4 380.0,292.6 379.0,291.5 378.0,291.1 377.0,291.1 376.0,289.4 375.0,289.4 374.0,288.4 373.0,287.7 372.0,288.3 371.0,288.0 370.0,288.0 369.0,285.6 368.0,285.4 367.0,284.4 366.0,284.4 365.0,283.9 364.0,283.6 363.0,283.1 362.0,283.2 361.0,281.1 360.0,282.4 360.0,280.5 359.0,279.8 358.0,278.9 357.0,277.4 356.0,276.7 355.0,275.9 354.0,275.0 353.0,274.2" fill="#000" filter="url(#nz2)"/>
<polygon points="353.0,268.4 354.0,271.0 355.0,270.1 356.0,269.8 357.0,269.0 358.0,268.7 359.0,267.8 360.0,268.0 361.0,266.1 362.0,266.2 363.0,265.0 364.0,264.9 365.0,262.1 366.0,262.8 367.0,263.3 368.0,263.5 369.0,256.4 370.0,257.2 371.0,261.2 372.0,259.9 373.0,259.1 374.0,259.0 375.0,259.4 376.0,257.9 377.0,257.8 378.0,257.1 379.0,256.4 380.0,255.3 381.0,252.9 382.0,254.4 383.0,252.8 384.0,252.6 385.0,253.1 386.0,252.0 387.0,250.9 388.0,251.7 389.0,248.7 390.0,250.3 391.0,248.1 392.0,248.1 393.0,247.3 394.0,247.8 395.0,247.3 396.0,244.0 397.0,245.4 398.0,244.3 399.0,238.0 400.0,239.6 401.0,243.4 402.0,243.0 403.0,242.6 404.0,240.7 405.0,241.5 406.0,239.3 407.0,240.1 408.0,239.9 409.0,233.4 410.0,237.3 411.0,237.8 412.0,237.6 413.0,235.9 414.0,235.8 415.0,235.6 416.0,228.1 417.0,234.6 418.0,234.0 419.0,230.7 420.0,231.1 421.0,231.9 422.0,231.5 423.0,229.8 424.0,229.6 425.0,224.4 426.0,228.0 427.0,228.4 428.0,225.6 429.0,225.7 430.0,226.7 431.0,224.5 432.0,224.7 433.0,225.2 434.0,224.7 435.0,223.9 436.0,223.1 437.0,221.6 438.0,222.2 439.0,221.5 440.0,218.3 441.0,219.9 442.0,215.3 443.0,218.9 444.0,216.8 445.0,215.2 446.0,216.6 447.0,214.4 448.0,213.5 449.0,214.3 450.0,213.3 451.0,214.5 452.0,213.1 453.0,212.4 454.0,210.7 455.0,212.1 456.0,211.0 457.0,210.9 458.0,209.5 459.0,207.9 460.0,207.1 461.0,208.3 462.0,206.8 463.0,204.6 464.0,205.0 465.0,204.7 466.0,205.1 467.0,205.1 468.0,202.9 469.0,203.0 470.0,197.1 471.0,202.8 472.0,199.8 473.0,200.1 474.0,196.4 475.0,197.7 476.0,198.1 477.0,199.0 478.0,195.8 479.0,197.9 480.0,196.3 480.0,192.0 481.0,197.0 482.0,198.0 483.0,198.1 484.0,192.9 485.0,199.5 486.0,199.2 487.0,201.2 488.0,200.7 489.0,200.3 490.0,201.6 491.0,203.6 492.0,203.9 493.1,203.8 494.1,202.4 495.1,204.7 496.1,206.6 497.1,204.4 498.1,206.9 499.1,207.1 500.1,208.6 501.1,209.1 502.1,209.1 503.1,210.2 504.1,209.4 505.1,209.5 506.1,212.3 507.1,208.3 508.1,209.7 509.1,213.4 510.1,214.9 511.1,215.4 512.1,210.1 513.1,214.1 514.1,215.1 515.1,217.4 516.1,217.0 517.1,217.8 518.1,217.6 519.2,219.4 520.2,219.1 521.2,217.5 522.2,218.9 523.2,222.4 524.2,222.7 525.2,222.9 526.2,224.2 527.2,224.2 528.2,225.4 529.2,224.8 530.2,224.7 531.2,225.9 532.2,226.7 533.2,227.7 534.2,228.6 535.2,227.3 536.2,229.1 537.2,230.1 538.2,230.3 539.2,231.8 540.2,230.4 541.2,232.9 542.2,233.1 543.2,232.4 544.3,232.6 545.3,235.0 546.3,235.0 547.3,235.6 548.3,237.1 549.3,235.9 550.3,237.4 551.3,238.2 552.3,238.8 553.3,239.2 554.3,238.0 555.3,237.9 556.3,237.4 557.3,241.7 558.3,240.9 559.3,243.2 560.3,243.0 561.3,243.9 562.3,239.6 563.3,244.6 564.3,243.8 565.3,246.6 566.3,245.6 567.3,245.6 568.3,243.5 569.4,248.4 570.4,248.8 571.4,249.1 572.4,249.2 573.4,251.0 574.4,250.9 575.4,252.5 576.4,253.0 577.4,253.1 578.4,251.9 579.4,254.7 580.4,253.3 581.4,255.8 582.4,254.1 583.4,254.3 584.4,256.7 585.4,258.5 586.4,257.9 587.4,259.7 588.4,257.0 589.4,260.0 590.4,259.9 591.4,261.0 592.4,259.8 593.4,262.3 594.4,262.4 595.5,262.5 596.5,265.0 597.5,264.6 598.5,264.8 599.5,266.3 600.5,265.9 601.5,265.8 602.5,266.6 603.5,268.3 604.5,269.0 605.5,269.9 606.5,269.5 607.5,271.1 607.8,273.2 606.8,274.6 605.9,275.4 604.9,276.4 604.0,277.6 603.0,278.8 603.0,280.2 602.0,279.5 601.0,280.1 600.0,282.8 599.0,282.1 598.0,281.9 597.0,282.7 596.0,282.7 595.0,284.1 594.0,283.8 593.0,284.8 592.0,285.3 591.0,285.5 590.0,286.2 589.0,286.8 588.0,287.3 587.0,288.2 586.0,289.2 585.0,288.8 584.0,289.7 583.0,290.1 582.0,291.4 581.0,291.8 580.0,293.4 579.0,292.6 578.0,293.9 577.0,293.8 576.0,294.4 575.0,294.7 574.0,296.5 573.0,296.1 572.0,297.5 571.0,297.2 570.0,298.3 569.0,300.8 568.0,299.2 567.0,302.6 566.0,299.9 565.0,300.9 564.0,301.1 563.0,302.9 562.0,302.5 561.0,304.2 560.0,303.9 559.0,303.9 558.0,304.4 557.0,305.4 556.0,306.3 555.0,306.3 554.0,307.1 553.0,307.5 552.0,308.2 551.0,309.2 550.0,309.6 549.0,311.1 548.0,310.6 547.0,311.8 546.0,311.4 545.0,312.2 544.0,313.1 543.0,313.5 542.0,314.0 541.0,314.2 540.0,314.9 539.0,318.1 538.0,318.3 537.0,316.7 536.0,319.5 535.0,318.2 534.0,318.3 533.0,318.9 532.0,321.5 531.0,321.2 530.0,321.2 529.0,321.7 528.0,322.7 527.0,323.8 526.0,323.8 525.0,323.6 524.0,324.6 523.0,325.1 522.0,325.0 521.0,327.2 520.0,329.4 519.0,328.6 518.0,328.3 517.0,328.3 516.0,329.1 515.0,329.8 514.0,329.7 513.0,331.2 512.0,331.1 511.0,332.1 510.0,331.9 509.0,333.4 508.0,333.0 507.0,334.3 506.0,335.3 505.0,335.4 504.0,336.3 503.0,336.3 502.0,336.6 501.0,337.1 500.0,338.9 499.0,339.3 498.0,339.6 497.0,339.8 496.0,340.4 495.0,342.4 494.0,343.3 493.0,342.0 492.0,344.3 491.0,344.4 490.0,344.5 489.0,346.3 488.0,344.7 487.0,345.6 486.0,346.3 485.0,348.0 484.0,347.1 483.0,347.7 482.0,349.3 481.0,349.0 481.0,349.6 480.0,348.6 479.0,347.6 478.0,347.9 477.0,346.3 476.0,345.8 475.0,345.8 474.0,345.4 473.0,344.7 472.0,344.6 471.0,343.2 470.0,343.1 469.0,341.9 468.0,342.7 467.0,342.2 466.0,340.8 465.0,341.9 464.0,340.1 463.0,339.4 462.0,338.8 461.0,338.0 460.0,338.9 459.0,336.8 458.0,336.6 457.0,337.0 456.0,337.1 455.0,335.4 454.0,335.1 453.0,332.9 452.0,332.9 451.0,331.7 450.0,331.7 449.0,331.5 448.0,330.3 447.0,332.2 446.0,330.0 445.0,328.4 444.0,327.9 443.0,327.5 442.0,327.9 441.0,326.4 440.0,326.5 439.0,326.3 438.0,324.7 437.0,324.3 436.0,323.9 435.0,324.1 434.0,322.3 433.0,322.0 432.0,321.2 431.0,321.9 430.0,321.2 429.0,319.4 428.0,319.3 427.0,318.7 426.0,317.9 425.0,317.4 424.0,317.5 423.0,318.0 422.0,315.4 421.0,315.6 420.0,315.7 419.0,316.7 418.0,313.3 417.0,315.6 416.0,312.6 415.0,311.9 414.0,311.3 413.0,310.8 412.0,310.6 411.0,310.4 410.0,311.2 409.0,308.6 408.0,309.6 407.0,307.0 406.0,306.6 405.0,306.4 404.0,305.2 403.0,305.5 402.0,304.3 401.0,304.3 400.0,303.8 399.0,302.9 398.0,302.8 397.0,302.4 396.0,300.8 395.0,301.3 394.0,300.3 393.0,299.3 392.0,300.1 391.0,298.9 390.0,298.9 389.0,298.7 388.0,296.6 387.0,295.8 386.0,296.3 385.0,294.4 384.0,295.4 383.0,293.7 382.0,293.1 381.0,292.4 380.0,292.6 379.0,291.5 378.0,291.1 377.0,291.1 376.0,289.4 375.0,289.4 374.0,288.4 373.0,287.7 372.0,288.3 371.0,288.0 370.0,288.0 369.0,285.6 368.0,285.4 367.0,284.4 366.0,284.4 365.0,283.9 364.0,283.6 363.0,283.1 362.0,283.2 361.0,281.1 360.0,282.4 360.0,280.5 359.0,279.8 358.0,278.9 357.0,277.4 356.0,276.7 355.0,275.9 354.0,275.0 353.0,274.2" fill="url(#sh2)"/>
<polyline points="607.5,272.5 481,346 353,274" fill="none" stroke="#1a0a00" stroke-opacity="0.3" stroke-width="3"/>
<path d="M421.4,281.6 L421.9,279.0 L422.7,279.0 L423.1,281.6Z" fill="#a89658" fill-opacity="0.39"/><path d="M441.1,231.7 L441.4,226.3 L442.1,226.3 L442.5,231.7Z" fill="#a89658" fill-opacity="0.56"/><path d="M527.9,234.7 L528.4,231.2 L529.5,231.2 L530.1,234.7Z" fill="#a89658" fill-opacity="0.32"/><path d="M468.0,274.3 L468.5,268.9 L469.5,268.9 L470.0,274.3Z" fill="#a89658" fill-opacity="0.32"/><path d="M461.6,256.4 L462.0,251.5 L462.9,251.5 L463.4,256.4Z" fill="#a89658" fill-opacity="0.41"/><path d="M558.4,296.9 L558.8,291.9 L559.7,291.9 L560.2,296.9Z" fill="#a89658" fill-opacity="0.34"/><path d="M458.1,212.0 L458.7,205.0 L459.8,205.0 L460.3,212.0Z" fill="#a89658" fill-opacity="0.36"/><path d="M479.2,339.1 L479.7,333.5 L480.7,333.5 L481.2,339.1Z" fill="#a89658" fill-opacity="0.48"/><path d="M499.6,287.4 L500.1,283.6 L500.9,283.6 L501.3,287.4Z" fill="#a89658" fill-opacity="0.32"/><path d="M446.2,310.5 L446.7,307.4 L447.8,307.4 L448.4,310.5Z" fill="#a89658" fill-opacity="0.31"/><path d="M493.3,261.5 L493.7,259.0 L494.4,259.0 L494.7,261.5Z" fill="#a89658" fill-opacity="0.46"/><path d="M428.1,260.0 L428.7,257.4 L429.9,257.4 L430.5,260.0Z" fill="#a89658" fill-opacity="0.50"/><path d="M487.5,299.1 L487.8,293.1 L488.6,293.1 L489.0,299.1Z" fill="#a89658" fill-opacity="0.60"/><path d="M473.1,232.5 L473.6,228.8 L474.8,228.8 L475.4,232.5Z" fill="#a89658" fill-opacity="0.46"/><path d="M478.3,316.6 L478.9,306.5 L480.0,306.5 L480.6,316.6Z" fill="#a89658" fill-opacity="0.30"/><path d="M473.1,221.7 L473.7,218.8 L474.8,218.8 L475.4,221.7Z" fill="#a89658" fill-opacity="0.36"/><path d="M520.9,294.5 L521.5,291.3 L522.6,291.3 L523.2,294.5Z" fill="#a89658" fill-opacity="0.31"/><path d="M417.8,249.8 L418.2,246.0 L418.9,246.0 L419.3,249.8Z" fill="#a89658" fill-opacity="0.47"/><path d="M535.3,301.6 L535.7,298.0 L536.4,298.0 L536.7,301.6Z" fill="#a89658" fill-opacity="0.46"/><path d="M511.0,265.5 L511.6,262.2 L512.7,262.2 L513.2,265.5Z" fill="#a89658" fill-opacity="0.52"/><path d="M454.8,298.0 L455.3,293.5 L456.3,293.5 L456.8,298.0Z" fill="#a89658" fill-opacity="0.32"/><path d="M503.0,238.0 L503.6,234.2 L504.8,234.2 L505.3,238.0Z" fill="#a89658" fill-opacity="0.49"/><path d="M460.9,258.4 L461.4,254.4 L462.3,254.4 L462.8,258.4Z" fill="#a89658" fill-opacity="0.43"/><path d="M529.7,242.9 L530.1,235.8 L530.8,235.8 L531.2,242.9Z" fill="#a89658" fill-opacity="0.43"/><path d="M477.5,312.5 L478.0,305.7 L479.1,305.7 L479.7,312.5Z" fill="#a89658" fill-opacity="0.40"/><path d="M545.6,277.1 L546.1,271.2 L547.1,271.2 L547.6,277.1Z" fill="#a89658" fill-opacity="0.46"/><path d="M565.5,263.9 L566.0,258.0 L567.0,258.0 L567.5,263.9Z" fill="#a89658" fill-opacity="0.58"/><path d="M506.0,243.9 L506.4,240.0 L507.2,240.0 L507.6,243.9Z" fill="#a89658" fill-opacity="0.47"/><path d="M532.0,299.7 L532.6,296.8 L533.8,296.8 L534.4,299.7Z" fill="#a89658" fill-opacity="0.54"/><path d="M417.5,270.7 L417.9,267.1 L418.6,267.1 L419.0,270.7Z" fill="#a89658" fill-opacity="0.55"/><path d="M395.2,272.2 L395.7,266.6 L396.7,266.6 L397.2,272.2Z" fill="#a89658" fill-opacity="0.43"/><path d="M535.5,237.1 L536.1,231.9 L537.2,231.9 L537.7,237.1Z" fill="#a89658" fill-opacity="0.45"/><path d="M409.8,291.6 L410.2,288.0 L410.9,288.0 L411.2,291.6Z" fill="#a89658" fill-opacity="0.36"/><path d="M577.0,257.5 L577.5,252.5 L578.4,252.5 L578.9,257.5Z" fill="#a89658" fill-opacity="0.52"/><path d="M469.3,279.2 L469.8,276.7 L470.8,276.7 L471.3,279.2Z" fill="#a89658" fill-opacity="0.38"/><path d="M506.8,243.3 L507.3,238.0 L508.3,238.0 L508.8,243.3Z" fill="#a89658" fill-opacity="0.57"/><path d="M582.6,274.7 L583.2,266.7 L584.2,266.7 L584.8,274.7Z" fill="#a89658" fill-opacity="0.48"/><path d="M463.5,216.7 L464.0,212.9 L465.2,212.9 L465.8,216.7Z" fill="#a89658" fill-opacity="0.48"/><path d="M509.4,263.1 L509.8,259.7 L510.7,259.7 L511.1,263.1Z" fill="#a89658" fill-opacity="0.56"/><path d="M405.1,257.9 L405.5,254.2 L406.4,254.2 L406.8,257.9Z" fill="#a89658" fill-opacity="0.57"/><path d="M459.5,273.9 L459.9,271.2 L460.7,271.2 L461.1,273.9Z" fill="#a89658" fill-opacity="0.34"/><path d="M388.7,296.3 L389.2,291.0 L390.2,291.0 L390.7,296.3Z" fill="#a89658" fill-opacity="0.41"/><path d="M454.9,246.4 L455.4,241.1 L456.3,241.1 L456.8,246.4Z" fill="#a89658" fill-opacity="0.56"/><path d="M517.2,298.9 L517.6,293.2 L518.5,293.2 L518.9,298.9Z" fill="#a89658" fill-opacity="0.57"/><path d="M463.3,309.9 L463.7,301.3 L464.4,301.3 L464.7,309.9Z" fill="#a89658" fill-opacity="0.59"/><path d="M364.4,282.6 L364.9,277.9 L366.1,277.9 L366.6,282.6Z" fill="#a89658" fill-opacity="0.52"/><path d="M407.0,281.0 L407.4,278.5 L408.2,278.5 L408.6,281.0Z" fill="#a89658" fill-opacity="0.41"/><path d="M468.5,293.5 L469.0,288.7 L470.0,288.7 L470.5,293.5Z" fill="#a89658" fill-opacity="0.30"/><path d="M399.3,274.8 L399.7,269.7 L400.5,269.7 L401.0,274.8Z" fill="#a89658" fill-opacity="0.58"/><path d="M511.4,320.6 L511.7,317.9 L512.4,317.9 L512.8,320.6Z" fill="#a89658" fill-opacity="0.49"/><path d="M485.7,324.0 L486.3,302.0 L487.0,301.0 L487.7,302.0 L488.3,324.0Z" fill="url(#spk)"/><path d="M474.3,258.0 L474.9,242.0 L475.6,241.0 L476.3,242.0 L476.9,258.0Z" fill="url(#spk)"/><path d="M457.2,287.0 L457.8,278.0 L458.5,277.0 L459.2,278.0 L459.8,287.0Z" fill="url(#spk)"/><path d="M474.3,278.5 L474.9,267.5 L475.6,266.5 L476.3,267.5 L476.9,278.5Z" fill="url(#spk)"/><path d="M505.7,304.0 L506.3,293.0 L507.0,292.0 L507.7,293.0 L508.3,304.0Z" fill="url(#spk)"/><path d="M489.7,301.0 L490.3,294.0 L491.0,293.0 L491.7,294.0 L492.3,301.0Z" fill="url(#spk)"/><path d="M514.3,287.0 L514.9,276.0 L515.6,275.0 L516.3,276.0 L516.9,287.0Z" fill="url(#spk)"/><path d="M536.7,267.0 L537.3,256.0 L538.0,255.0 L538.7,256.0 L539.3,267.0Z" fill="url(#spk)"/><path d="M551.3,284.0 L551.9,275.0 L552.6,274.0 L553.3,275.0 L553.9,284.0Z" fill="url(#spk)"/><path d="M568.5,275.6 L569.1,266.6 L569.8,265.6 L570.5,266.6 L571.1,275.6Z" fill="url(#spk)"/><path d="M559.7,290.0 L560.3,283.0 L561.0,282.0 L561.7,283.0 L562.3,290.0Z" fill="url(#spk)"/><path d="M527.1,241.4 L527.7,232.4 L528.4,231.4 L529.1,232.4 L529.7,241.4Z" fill="url(#spk)"/><path d="M452.7,238.5 L453.3,231.5 L454.0,230.5 L454.7,231.5 L455.3,238.5Z" fill="url(#spk)"/><path d="M469.7,235.7 L470.3,228.7 L471.0,227.7 L471.7,228.7 L472.3,235.7Z" fill="url(#spk)"/><path d="M554.2,250.0 L554.8,245.0 L555.5,244.0 L556.2,245.0 L556.8,250.0Z" fill="url(#spk)"/><path d="M499.7,324.0 L500.3,315.0 L501.0,314.0 L501.7,315.0 L502.3,324.0Z" fill="url(#spk)"/><path d="M471.5,312.7 L472.1,305.7 L472.8,304.7 L473.5,305.7 L474.1,312.7Z" fill="url(#spk)"/><path d="M435.7,268.0 L436.3,262.0 L437.0,261.0 L437.7,262.0 L438.3,268.0Z" fill="url(#spk)"/><path d="M521.7,316.0 L522.3,310.0 L523.0,309.0 L523.7,310.0 L524.3,316.0Z" fill="url(#spk)"/><path d="M541.7,300.0 L542.3,294.0 L543.0,293.0 L543.7,294.0 L544.3,300.0Z" fill="url(#spk)"/>
<g font-family="Liberation Serif, serif" font-weight="bold" fill="#fff" stroke="#fff" stroke-width="0.35" font-size="19.3">
<text transform="translate(385.6,101.8) rotate(-31.5)" textLength="51.5" lengthAdjust="spacingAndGlyphs">WIZO</text>
<text transform="translate(406.0,112.6) rotate(-30.4)" textLength="98.5" lengthAdjust="spacingAndGlyphs">Rq=0.27 nm</text>
<text transform="translate(391.5,279.2) rotate(-30.5)" textLength="34.5" lengthAdjust="spacingAndGlyphs">ITO</text>
<text transform="translate(413.6,286.6) rotate(-31.6)" textLength="100" lengthAdjust="spacingAndGlyphs">Rq=0.92 nm</text>
</g>
<g font-family="Liberation Serif, serif" fill="#111" font-size="15.5">
<text transform="translate(387.8,156.6) rotate(30)" textLength="40" lengthAdjust="spacingAndGlyphs">5 µm</text>
<text transform="translate(544.6,175.2) rotate(-32.5)" textLength="40" lengthAdjust="spacingAndGlyphs">5 µm</text>
<text transform="translate(384.5,323.3) rotate(30)" textLength="40" lengthAdjust="spacingAndGlyphs">5 µm</text>
<text transform="translate(540,343.8) rotate(-30)" textLength="40" lengthAdjust="spacingAndGlyphs">5 µm</text>
</g>
<defs><linearGradient id="cbar" x1="0" y1="0" x2="0" y2="1">
<stop offset="0" stop-color="#f8f08a"/><stop offset="0.091" stop-color="#ecd254"/><stop offset="0.242" stop-color="#d4a428"/><stop offset="0.394" stop-color="#b87c10"/>
<stop offset="0.545" stop-color="#8e4e0a"/><stop offset="0.697" stop-color="#5c2a05"/><stop offset="0.848" stop-color="#341404"/><stop offset="1" stop-color="#050101"/>
</linearGradient></defs>
<rect x="627.8" y="16.1" width="11.8" height="343.4" fill="url(#cbar)"/>
<defs><linearGradient id="cbh" x1="0" y1="0" x2="1" y2="0"><stop offset="0" stop-color="#000" stop-opacity="0.16"/><stop offset="0.35" stop-color="#000" stop-opacity="0"/><stop offset="0.8" stop-color="#000" stop-opacity="0"/><stop offset="1" stop-color="#000" stop-opacity="0.10"/></linearGradient></defs>
<rect x="627.8" y="16.1" width="11.8" height="343.4" fill="url(#cbh)"/>
<rect x="627.8" y="16.1" width="11.8" height="343.4" fill="none" stroke="#6a6030" stroke-opacity="0.55" stroke-width="0.6"/>
<g stroke="#444" stroke-width="0.7">
<line x1="639.6" y1="359.6" x2="645" y2="359.6"/>
<line x1="639.6" y1="307.2" x2="645" y2="307.2"/>
<line x1="639.6" y1="254.8" x2="645" y2="254.8"/>
<line x1="639.6" y1="202.4" x2="645" y2="202.4"/>
<line x1="639.6" y1="150.0" x2="645" y2="150.0"/>
<line x1="639.6" y1="97.6" x2="645" y2="97.6"/>
<line x1="639.6" y1="45.2" x2="645" y2="45.2"/>
<line x1="639.6" y1="16.1" x2="645" y2="16.1"/>
</g>
<g font-family="Liberation Sans, sans-serif" font-size="12" fill="#1c1c1c">
<text x="646.8" y="365.6">0.0</text>
<text x="646.8" y="311.6">0.5</text>
<text x="646.8" y="259.2">1.0</text>
<text x="646.8" y="206.8">1.5</text>
<text x="646.8" y="154.4">2.0</text>
<text x="646.8" y="102.0">2.5</text>
<text x="646.8" y="49.6">3.0</text>
<text x="646.8" y="21.3">3.3 nm</text>
</g>
</svg></body></html>
